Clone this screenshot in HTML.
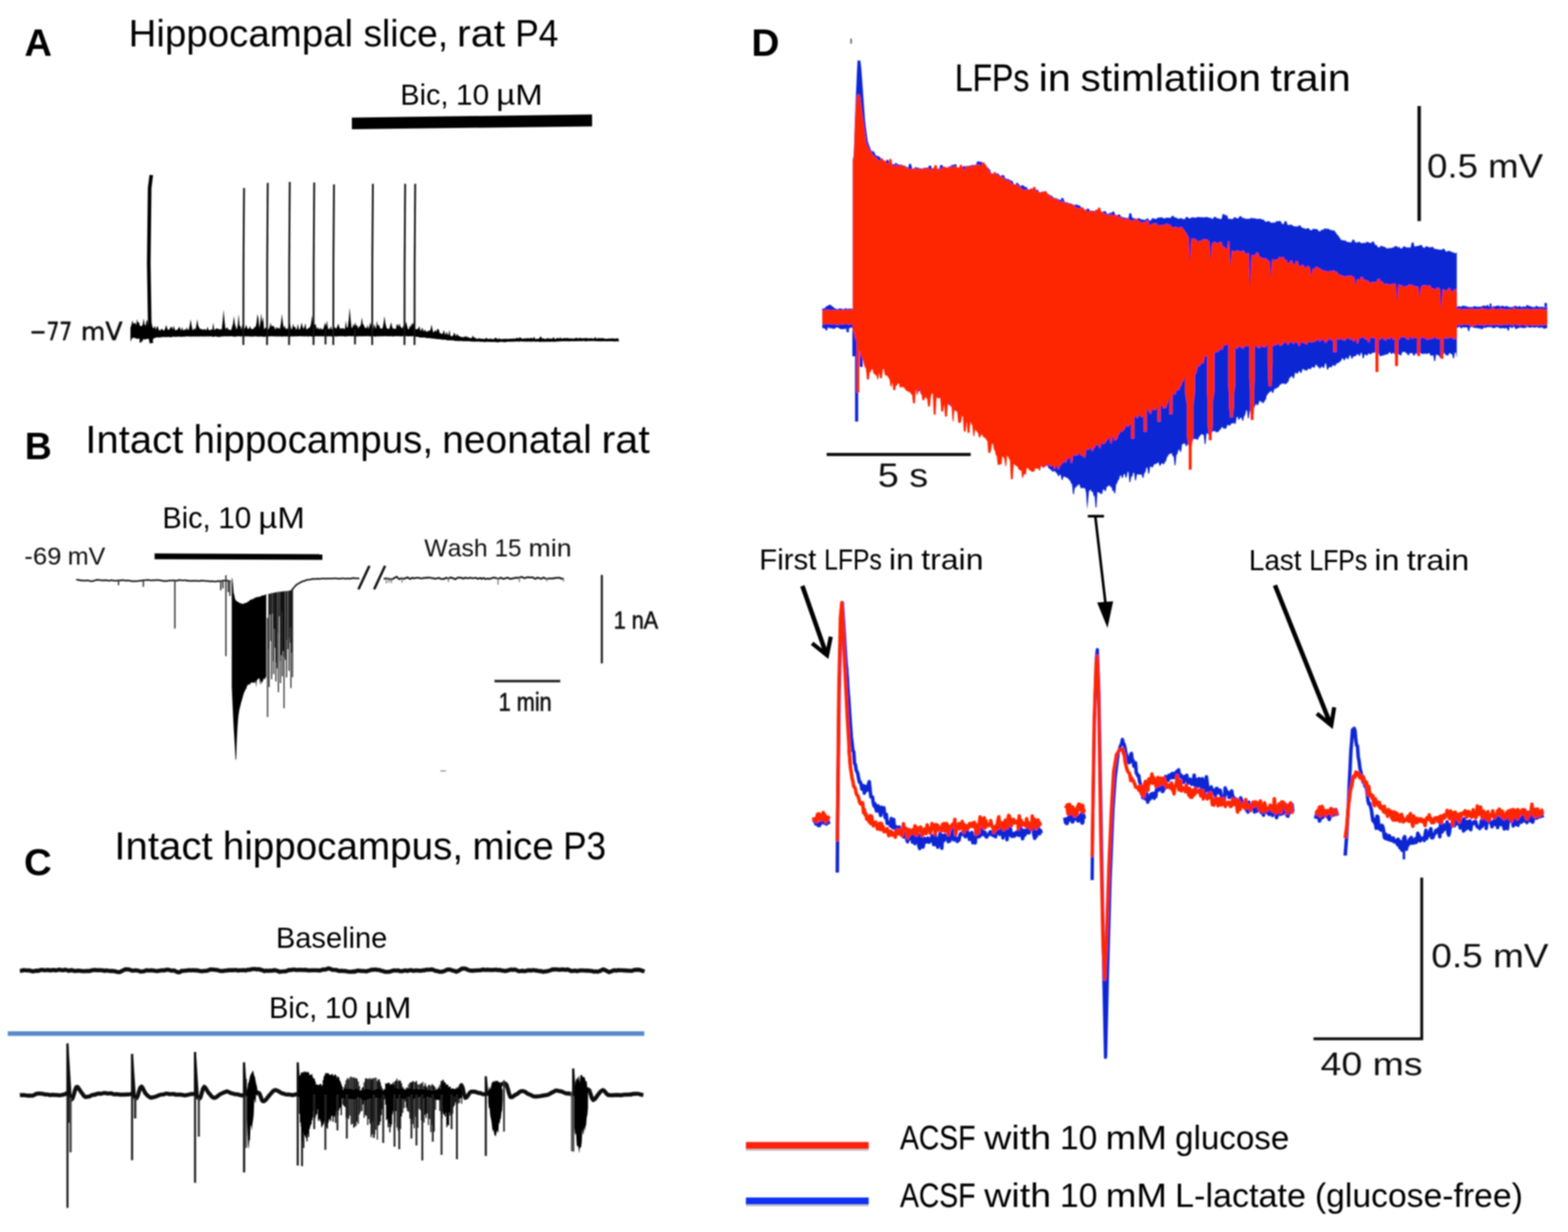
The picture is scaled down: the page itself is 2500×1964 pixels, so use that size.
<!DOCTYPE html>
<html lang="en">
<head>
<meta charset="utf-8">
<title>Figure</title>
<style>
html,body{margin:0;padding:0;background:#fff;}
body{width:2500px;height:1964px;overflow:hidden;}
svg{display:block;}
text{font-kerning:none;white-space:pre;}
</style>
</head>
<body>
<svg width="2500" height="1964" viewBox="0 0 2500 1964">
<defs><filter id="soft" x="0" y="0" width="2500" height="1964" filterUnits="userSpaceOnUse"><feGaussianBlur stdDeviation="0.85"/></filter></defs>
<rect width="2500" height="1964" fill="#fff"/>
<g filter="url(#soft)">
<g id="panel-a">
<text x="39.1" y="89.0" font-family='"Liberation Sans", sans-serif' font-size="61.0" font-weight="bold" textLength="43.9" lengthAdjust="spacingAndGlyphs" fill="#000">A</text>
<text y="74.0" font-family='"Liberation Sans", sans-serif' font-size="61.8" fill="#000"><tspan x="205.0" textLength="358.0" lengthAdjust="spacingAndGlyphs">Hippocampal</tspan> <tspan x="579.4" textLength="135.2" lengthAdjust="spacingAndGlyphs">slice,</tspan> <tspan x="728.6" textLength="77.0" lengthAdjust="spacingAndGlyphs">rat</tspan> <tspan x="821.6" textLength="68.7" lengthAdjust="spacingAndGlyphs" stroke="#000" stroke-width="0.09">P4</tspan></text>
<text y="167.0" font-family='"Liberation Sans", sans-serif' font-size="46.9" fill="#000"><tspan x="638.2" textLength="76.8" lengthAdjust="spacingAndGlyphs">Bic,</tspan> <tspan x="727.1" textLength="52.9" lengthAdjust="spacingAndGlyphs">10</tspan> <tspan x="791.3" textLength="74.0" lengthAdjust="spacingAndGlyphs">µM</tspan></text>
<polygon points="561,187.5 944,182.5 944,201.5 561,206" fill="#000"/>
<text y="542.0" font-family='"DejaVu Sans", sans-serif' font-size="39.0" fill="#111" stroke="#111" stroke-width="0.8"><tspan x="47.2" textLength="67.9" lengthAdjust="spacingAndGlyphs">−77</tspan> <tspan x="129.0" textLength="66.4" lengthAdjust="spacingAndGlyphs">mV</tspan></text>
<polygon points="208.0,522.2 209.5,517.9 211.0,510.2 212.5,516.6 214.0,515.2 215.5,514.5 217.0,518.8 218.5,508.5 220.0,514.9 221.5,512.8 223.0,519.4 224.5,519.6 226.0,520.1 227.5,517.2 229.0,507.3 230.5,517.2 232.0,519.3 233.5,511.6 235.0,510.3 236.5,524.6 238.0,519.1 239.5,523.9 241.0,512.6 242.5,518.6 244.0,523.6 245.5,522.4 247.0,519.2 248.5,525.7 250.0,521.3 251.5,519.8 253.0,525.4 254.5,527.1 256.0,526.6 257.5,523.8 259.0,525.1 260.5,527.1 262.0,526.6 263.5,523.3 265.0,517.8 266.5,523.3 268.0,526.1 269.5,525.8 271.0,523.2 272.5,521.5 274.0,520.7 275.5,525.8 277.0,518.9 278.5,524.6 280.0,527.1 281.5,526.1 283.0,525.0 284.5,523.8 286.0,520.5 287.5,523.9 289.0,527.0 290.5,521.3 292.0,526.9 293.5,526.1 295.0,524.4 296.5,526.3 298.0,521.5 299.5,526.0 301.0,525.4 302.5,518.7 304.0,508.8 305.5,518.7 307.0,526.1 308.5,525.8 310.0,522.7 311.5,526.0 313.0,518.7 314.5,508.8 316.0,518.7 317.5,522.1 319.0,524.7 320.5,523.9 322.0,525.1 323.5,526.1 325.0,524.8 326.5,524.4 328.0,526.5 329.5,525.2 331.0,520.7 332.5,525.8 334.0,526.5 335.5,526.1 337.0,524.9 338.5,525.7 340.0,514.1 341.5,525.5 343.0,525.8 344.5,523.5 346.0,523.7 347.5,524.1 349.0,524.7 350.5,525.5 352.0,524.3 353.5,525.6 355.0,511.7 356.5,493.6 358.0,511.7 359.5,524.6 361.0,523.2 362.5,521.6 364.0,525.5 365.5,525.1 367.0,526.1 368.5,526.3 370.0,520.9 371.5,516.2 373.0,503.5 374.5,516.2 376.0,521.3 377.5,525.4 379.0,518.3 380.5,500.8 382.0,519.3 383.5,519.9 385.0,525.5 386.5,516.6 388.0,525.8 389.5,524.3 391.0,522.4 392.5,517.4 394.0,522.4 395.5,524.6 397.0,523.9 398.5,519.7 400.0,523.7 401.5,524.9 403.0,524.1 404.5,524.5 406.0,520.4 407.5,521.7 409.0,514.7 410.5,500.4 412.0,507.4 413.5,523.2 415.0,514.2 416.5,499.3 418.0,514.2 419.5,504.9 421.0,525.3 422.5,522.7 424.0,522.3 425.5,525.1 427.0,525.7 428.5,524.0 430.0,520.9 431.5,514.3 433.0,520.9 434.5,518.9 436.0,519.7 437.5,521.8 439.0,525.7 440.5,520.7 442.0,524.5 443.5,521.5 445.0,524.2 446.5,523.2 448.0,514.5 449.5,500.2 451.0,514.5 452.5,523.3 454.0,518.7 455.5,524.8 457.0,523.3 458.5,525.0 460.0,519.8 461.5,512.1 463.0,519.0 464.5,525.7 466.0,522.8 467.5,516.1 469.0,522.3 470.5,520.2 472.0,525.8 473.5,523.7 475.0,516.1 476.5,524.9 478.0,525.3 479.5,520.7 481.0,514.1 482.5,520.7 484.0,524.5 485.5,520.8 487.0,515.0 488.5,525.7 490.0,523.9 491.5,523.8 493.0,522.3 494.5,520.9 496.0,515.6 497.5,503.0 499.0,515.6 500.5,519.9 502.0,516.7 503.5,517.4 505.0,525.1 506.5,521.5 508.0,523.8 509.5,525.4 511.0,521.9 512.5,525.3 514.0,524.7 515.5,524.5 517.0,518.9 518.5,513.9 520.0,520.5 521.5,510.4 523.0,525.3 524.5,523.0 526.0,525.3 527.5,519.6 529.0,525.1 530.5,524.8 532.0,522.9 533.5,521.2 535.0,523.4 536.5,523.5 538.0,519.8 539.5,515.8 541.0,521.3 542.5,524.0 544.0,523.9 545.5,523.1 547.0,523.4 548.5,523.9 550.0,524.5 551.5,511.2 553.0,522.1 554.5,522.2 556.0,509.5 557.5,489.7 559.0,509.5 560.5,522.4 562.0,522.6 563.5,516.1 565.0,520.3 566.5,513.6 568.0,520.3 569.5,517.8 571.0,524.0 572.5,520.4 574.0,520.5 575.5,516.7 577.0,505.7 578.5,516.7 580.0,517.9 581.5,521.8 583.0,523.0 584.5,523.3 586.0,517.5 587.5,524.4 589.0,520.2 590.5,513.6 592.0,520.2 593.5,524.5 595.0,524.6 596.5,516.4 598.0,520.7 599.5,524.8 601.0,510.8 602.5,520.1 604.0,516.9 605.5,521.9 607.0,523.7 608.5,523.9 610.0,522.9 611.5,515.6 613.0,503.5 614.5,515.6 616.0,521.4 617.5,523.9 619.0,524.0 620.5,524.5 622.0,520.1 623.5,513.5 625.0,520.1 626.5,523.9 628.0,523.8 629.5,523.7 631.0,525.1 632.5,517.4 634.0,517.1 635.5,520.9 637.0,515.4 638.5,520.9 640.0,521.9 641.5,523.9 643.0,519.5 644.5,520.1 646.0,518.6 647.5,512.4 649.0,519.5 650.5,524.4 652.0,525.1 653.5,518.5 655.0,521.9 656.5,514.8 658.0,518.2 659.5,513.6 661.0,516.8 662.5,525.0 664.0,524.9 665.5,524.4 667.0,523.7 668.5,519.6 670.0,526.0 671.5,527.6 673.0,521.8 674.5,526.0 676.0,528.4 677.5,524.7 679.0,528.5 680.5,528.3 682.0,528.8 683.5,526.6 685.0,527.8 686.5,525.0 688.0,517.3 689.5,525.0 691.0,530.3 692.5,528.7 694.0,525.7 695.5,529.3 697.0,524.9 698.5,524.1 700.0,526.8 701.5,531.8 703.0,530.9 704.5,532.5 706.0,531.7 707.5,526.0 709.0,530.7 710.5,534.2 712.0,528.5 713.5,532.8 715.0,534.2 716.5,525.8 718.0,535.0 719.5,535.7 721.0,536.3 722.5,534.8 724.0,530.3 725.5,532.4 727.0,536.4 728.5,531.8 730.0,534.5 731.5,535.6 733.0,535.9 734.5,537.2 736.0,536.7 737.5,537.8 739.0,537.9 740.5,535.7 742.0,537.7 743.5,535.4 745.0,537.7 746.5,537.3 748.0,538.4 749.5,538.7 751.0,539.1 752.5,538.5 754.0,534.6 755.5,538.4 757.0,537.5 758.5,539.7 760.0,539.8 761.5,540.3 763.0,539.4 764.5,539.1 766.0,540.2 767.5,539.5 769.0,540.2 770.5,540.1 772.0,540.4 773.5,540.0 775.0,538.7 776.5,539.3 778.0,540.3 779.5,540.5 781.0,539.9 782.5,539.4 784.0,540.6 785.5,540.5 787.0,540.7 788.5,539.6 790.0,537.9 791.5,539.6 793.0,540.1 794.5,540.8 796.0,538.7 797.5,540.8 799.0,540.5 800.5,540.5 802.0,540.2 803.5,540.3 805.0,540.1 806.5,540.3 808.0,540.1 809.5,540.6 811.0,540.3 812.5,540.1 814.0,540.0 815.5,539.7 817.0,540.2 818.5,539.2 820.0,540.1 821.5,539.7 823.0,539.3 824.5,538.4 826.0,539.1 827.5,539.4 829.0,537.3 830.5,539.0 832.0,539.8 833.5,539.7 835.0,539.9 836.5,539.3 838.0,539.4 839.5,539.5 841.0,539.0 842.5,539.0 844.0,539.7 845.5,538.9 847.0,538.4 848.5,539.1 850.0,540.1 851.5,536.4 853.0,539.8 854.5,540.5 856.0,540.3 857.5,539.8 859.0,540.0 860.5,538.5 862.0,535.8 863.5,538.5 865.0,540.1 866.5,539.2 868.0,540.1 869.5,540.6 871.0,540.1 872.5,539.0 874.0,539.4 875.5,539.4 877.0,540.0 878.5,539.6 880.0,540.3 881.5,538.8 883.0,537.5 884.5,540.4 886.0,540.4 887.5,539.1 889.0,539.0 890.5,538.9 892.0,539.7 893.5,537.5 895.0,539.9 896.5,539.4 898.0,539.3 899.5,539.1 901.0,538.8 902.5,539.2 904.0,539.0 905.5,538.6 907.0,539.7 908.5,539.4 910.0,539.3 911.5,539.4 913.0,539.8 914.5,539.7 916.0,539.6 917.5,538.9 919.0,538.2 920.5,539.3 922.0,539.6 923.5,539.0 925.0,538.2 926.5,539.5 928.0,539.0 929.5,539.3 931.0,539.4 932.5,539.1 934.0,538.4 935.5,539.3 937.0,539.1 938.5,539.7 940.0,539.1 941.5,539.5 943.0,539.0 944.5,539.5 946.0,539.7 947.5,539.4 949.0,537.0 950.5,539.4 952.0,539.7 953.5,539.2 955.0,538.7 956.5,539.6 958.0,539.0 959.5,539.3 961.0,539.1 962.5,539.3 964.0,539.9 965.5,540.1 967.0,540.0 968.5,540.0 970.0,539.7 971.5,539.5 973.0,539.9 974.5,539.6 976.0,539.2 977.5,539.8 979.0,539.5 980.5,539.8 982.0,540.0 983.5,538.9 985.0,539.7 986.5,540.2 986.5,544.5 985.0,544.2 983.5,544.3 982.0,544.1 980.5,544.3 979.0,544.4 977.5,544.1 976.0,544.1 974.5,544.0 973.0,544.0 971.5,544.1 970.0,544.0 968.5,544.3 967.0,544.1 965.5,544.0 964.0,543.9 962.5,544.0 961.0,544.1 959.5,544.1 958.0,544.3 956.5,544.1 955.0,544.0 953.5,544.2 952.0,543.9 950.5,543.7 949.0,543.7 947.5,543.7 946.0,543.6 944.5,543.8 943.0,543.6 941.5,543.9 940.0,543.5 938.5,543.7 937.0,543.7 935.5,543.9 934.0,544.2 932.5,544.1 931.0,543.6 929.5,543.6 928.0,543.8 926.5,543.9 925.0,543.8 923.5,543.8 922.0,543.8 920.5,543.9 919.0,543.8 917.5,543.9 916.0,544.0 914.5,543.9 913.0,543.8 911.5,543.9 910.0,543.9 908.5,544.1 907.0,544.2 905.5,543.9 904.0,544.0 902.5,544.1 901.0,544.0 899.5,544.0 898.0,544.0 896.5,544.1 895.0,544.1 893.5,544.3 892.0,544.3 890.5,544.3 889.0,544.5 887.5,544.4 886.0,544.7 884.5,544.7 883.0,545.0 881.5,544.7 880.0,544.5 878.5,544.8 877.0,545.0 875.5,544.8 874.0,544.8 872.5,544.7 871.0,544.8 869.5,544.9 868.0,544.7 866.5,545.0 865.0,545.1 863.5,544.6 862.0,545.2 860.5,545.2 859.0,544.6 857.5,544.5 856.0,544.7 854.5,544.7 853.0,544.5 851.5,544.5 850.0,544.4 848.5,544.6 847.0,544.7 845.5,544.8 844.0,544.6 842.5,544.4 841.0,544.4 839.5,544.7 838.0,544.6 836.5,544.4 835.0,544.4 833.5,544.6 832.0,544.3 830.5,544.3 829.0,544.3 827.5,544.7 826.0,544.6 824.5,544.3 823.0,544.5 821.5,544.5 820.0,544.8 818.5,544.6 817.0,544.7 815.5,544.7 814.0,544.8 812.5,544.7 811.0,544.7 809.5,544.7 808.0,544.9 806.5,545.2 805.0,545.4 803.5,545.4 802.0,545.2 800.5,545.0 799.0,545.1 797.5,545.1 796.0,545.5 794.5,545.4 793.0,545.7 791.5,545.5 790.0,545.2 788.5,545.0 787.0,545.3 785.5,545.0 784.0,545.4 782.5,545.0 781.0,545.0 779.5,545.2 778.0,544.8 776.5,545.0 775.0,545.1 773.5,545.2 772.0,545.4 770.5,544.8 769.0,544.9 767.5,544.7 766.0,545.0 764.5,544.6 763.0,544.5 761.5,544.6 760.0,544.6 758.5,544.5 757.0,544.8 755.5,544.4 754.0,544.4 752.5,544.5 751.0,544.5 749.5,544.1 748.0,544.1 746.5,544.0 745.0,544.0 743.5,543.9 742.0,543.8 740.5,543.9 739.0,543.9 737.5,543.7 736.0,543.6 734.5,543.4 733.0,543.7 731.5,543.8 730.0,543.5 728.5,543.4 727.0,543.6 725.5,543.5 724.0,543.0 722.5,542.6 721.0,542.8 719.5,542.4 718.0,542.2 716.5,542.7 715.0,542.5 713.5,542.5 712.0,542.2 710.5,541.6 709.0,541.5 707.5,541.4 706.0,541.5 704.5,541.5 703.0,541.1 701.5,541.0 700.0,540.6 698.5,540.9 697.0,540.5 695.5,540.6 694.0,540.0 692.5,540.1 691.0,539.7 689.5,539.8 688.0,539.6 686.5,539.3 685.0,539.1 683.5,539.0 682.0,538.9 680.5,539.0 679.0,538.6 677.5,538.2 676.0,538.1 674.5,538.0 673.0,538.3 671.5,537.9 670.0,538.0 668.5,538.0 667.0,536.9 665.5,537.1 664.0,536.7 662.5,536.5 661.0,536.0 659.5,536.0 658.0,535.7 656.5,535.9 655.0,536.2 653.5,535.9 652.0,536.0 650.5,536.3 649.0,535.9 647.5,535.8 646.0,535.9 644.5,535.9 643.0,535.8 641.5,536.1 640.0,536.0 638.5,536.4 637.0,535.8 635.5,535.9 634.0,535.9 632.5,535.8 631.0,536.0 629.5,535.7 628.0,536.3 626.5,536.5 625.0,536.0 623.5,535.9 622.0,535.9 620.5,536.3 619.0,536.1 617.5,536.1 616.0,535.9 614.5,536.1 613.0,535.8 611.5,535.9 610.0,536.2 608.5,536.0 607.0,535.8 605.5,536.2 604.0,536.4 602.5,535.9 601.0,536.0 599.5,536.5 598.0,536.7 596.5,536.1 595.0,536.0 593.5,536.1 592.0,536.2 590.5,536.2 589.0,535.9 587.5,536.1 586.0,535.8 584.5,536.0 583.0,536.0 581.5,536.1 580.0,536.0 578.5,536.2 577.0,536.0 575.5,535.9 574.0,536.3 572.5,536.1 571.0,536.1 569.5,536.2 568.0,536.4 566.5,536.1 565.0,535.9 563.5,536.0 562.0,535.8 560.5,536.2 559.0,536.1 557.5,535.8 556.0,536.0 554.5,535.9 553.0,536.0 551.5,536.6 550.0,536.5 548.5,536.0 547.0,535.9 545.5,536.1 544.0,535.9 542.5,535.9 541.0,535.9 539.5,536.1 538.0,536.3 536.5,536.6 535.0,536.2 533.5,535.9 532.0,536.4 530.5,536.7 529.0,536.4 527.5,536.1 526.0,536.3 524.5,536.0 523.0,536.2 521.5,536.2 520.0,536.0 518.5,536.0 517.0,535.9 515.5,536.3 514.0,536.1 512.5,536.3 511.0,536.0 509.5,536.2 508.0,536.1 506.5,536.3 505.0,536.1 503.5,536.0 502.0,536.2 500.5,536.9 499.0,536.7 497.5,536.3 496.0,536.6 494.5,536.1 493.0,536.0 491.5,536.5 490.0,536.5 488.5,536.1 487.0,536.1 485.5,536.4 484.0,536.0 482.5,536.2 481.0,536.0 479.5,536.0 478.0,536.0 476.5,536.0 475.0,536.2 473.5,536.2 472.0,536.0 470.5,536.3 469.0,536.3 467.5,536.4 466.0,536.3 464.5,536.0 463.0,536.7 461.5,536.9 460.0,536.4 458.5,536.3 457.0,536.3 455.5,536.5 454.0,536.3 452.5,536.3 451.0,536.4 449.5,536.6 448.0,536.4 446.5,536.3 445.0,536.2 443.5,536.4 442.0,536.2 440.5,536.3 439.0,536.4 437.5,536.0 436.0,536.2 434.5,536.3 433.0,536.1 431.5,536.1 430.0,536.3 428.5,536.1 427.0,536.9 425.5,537.1 424.0,536.5 422.5,536.4 421.0,536.9 419.5,536.7 418.0,536.5 416.5,536.4 415.0,536.3 413.5,536.7 412.0,536.4 410.5,536.4 409.0,536.3 407.5,536.2 406.0,536.2 404.5,536.3 403.0,536.6 401.5,536.7 400.0,536.2 398.5,536.4 397.0,536.2 395.5,536.3 394.0,536.2 392.5,536.2 391.0,536.1 389.5,536.6 388.0,536.2 386.5,536.1 385.0,536.2 383.5,536.5 382.0,536.1 380.5,536.1 379.0,536.2 377.5,536.1 376.0,536.7 374.5,536.6 373.0,536.7 371.5,536.5 370.0,536.1 368.5,536.1 367.0,536.1 365.5,536.2 364.0,536.3 362.5,536.1 361.0,536.4 359.5,536.1 358.0,536.1 356.5,536.5 355.0,536.3 353.5,536.2 352.0,536.8 350.5,536.9 349.0,537.2 347.5,537.0 346.0,536.7 344.5,536.6 343.0,536.1 341.5,537.1 340.0,537.0 338.5,536.4 337.0,536.5 335.5,536.1 334.0,536.5 332.5,536.3 331.0,536.3 329.5,536.3 328.0,536.6 326.5,536.2 325.0,536.6 323.5,536.3 322.0,536.5 320.5,536.3 319.0,536.3 317.5,536.6 316.0,536.4 314.5,536.4 313.0,536.3 311.5,536.6 310.0,536.4 308.5,536.3 307.0,536.5 305.5,536.6 304.0,536.4 302.5,536.5 301.0,536.4 299.5,536.3 298.0,536.2 296.5,536.3 295.0,536.7 293.5,536.8 292.0,536.5 290.5,536.9 289.0,537.1 287.5,536.8 286.0,536.7 284.5,536.7 283.0,536.6 281.5,537.0 280.0,537.1 278.5,536.7 277.0,536.7 275.5,536.8 274.0,537.2 272.5,537.7 271.0,537.6 269.5,537.3 268.0,536.9 266.5,537.4 265.0,537.2 263.5,537.6 262.0,537.1 260.5,537.4 259.0,537.2 257.5,537.4 256.0,537.8 254.5,538.2 253.0,537.7 251.5,537.9 250.0,537.8 248.5,538.3 247.0,539.0 245.5,538.8 244.0,541.8 242.5,539.6 241.0,539.5 239.5,545.3 238.0,541.0 236.5,540.3 235.0,540.0 233.5,540.2 232.0,541.4 230.5,541.1 229.0,539.9 227.5,543.3 226.0,544.7 224.5,539.7 223.0,539.7 221.5,540.0 220.0,539.6 218.5,540.5 217.0,539.5 215.5,539.0 214.0,538.5 212.5,538.6 211.0,538.7 209.5,541.2 208.0,545.2" fill="#000"/>
<g stroke="#161616" stroke-width="2.9" fill="none" stroke-linecap="butt">
<path d="M388.0,550 L388.2,420 L389.1,299.7"/>
<path d="M425.8,550 L426.0,420 L426.9,291.4"/>
<path d="M460.9,550 L461.1,420 L462.0,290.0"/>
<path d="M499.9,550 L500.1,420 L501.0,291.0"/>
<path d="M531.4,550 L531.6,420 L532.5,294.0"/>
<path d="M593.4,550 L593.6,420 L594.5,293.0"/>
<path d="M644.9,550 L645.1,420 L646.0,293.0"/>
<path d="M660.9,550 L661.1,420 L662.0,293.0"/>
<path d="M519,549 L519,525"/>
<path d="M566,549 L566,525"/>
</g>
<path d="M241.5,547 L239,533 L237.2,420 L238.6,300 L241.2,279" stroke="#000" stroke-width="5.8" fill="none" stroke-linejoin="round"/>
<path d="M224,546 L224,522" stroke="#000" stroke-width="3" fill="none"/>
</g>
<g id="panel-b">
<text x="39.6" y="732.0" font-family='"Liberation Sans", sans-serif' font-size="61.0" font-weight="bold" textLength="43.1" lengthAdjust="spacingAndGlyphs" fill="#000">B</text>
<text y="722.0" font-family='"Liberation Sans", sans-serif' font-size="62.5" fill="#000"><tspan x="136.1" textLength="156.2" lengthAdjust="spacingAndGlyphs">Intact</tspan> <tspan x="308.5" textLength="382.1" lengthAdjust="spacingAndGlyphs">hippocampus,</tspan> <tspan x="704.9" textLength="238.6" lengthAdjust="spacingAndGlyphs">neonatal</tspan> <tspan x="959.1" textLength="76.9" lengthAdjust="spacingAndGlyphs">rat</tspan></text>
<text y="842.3" font-family='"Liberation Sans", sans-serif' font-size="47.2" fill="#000"><tspan x="259.0" textLength="76.7" lengthAdjust="spacingAndGlyphs">Bic,</tspan> <tspan x="347.9" textLength="52.8" lengthAdjust="spacingAndGlyphs">10</tspan> <tspan x="412.0" textLength="74.0" lengthAdjust="spacingAndGlyphs">µM</tspan></text>
<text y="900.3" font-family='"Liberation Sans", sans-serif' font-size="38.2" fill="#111"><tspan x="38.8" textLength="59.1" lengthAdjust="spacingAndGlyphs">-69</tspan> <tspan x="108.0" textLength="60.0" lengthAdjust="spacingAndGlyphs">mV</tspan></text>
<text y="886.5" font-family='"Liberation Sans", sans-serif' font-size="39.5" fill="#111"><tspan x="676.4" textLength="101.0" lengthAdjust="spacingAndGlyphs">Wash</tspan> <tspan x="788.4" textLength="43.0" lengthAdjust="spacingAndGlyphs">15</tspan> <tspan x="842.8" textLength="68.5" lengthAdjust="spacingAndGlyphs">min</tspan></text>
<polygon points="246.5,882.3 514,883.5 514,892.5 246.5,891.5" fill="#000"/>
<polyline points="121.5,924.2 123.5,924.3 125.5,924.5 127.5,925.2 129.5,925.1 131.5,925.5 133.5,925.5 135.5,925.8 137.5,925.4 139.5,925.1 141.5,925.6 143.5,926.3 145.5,926.4 147.5,926.5 149.5,925.8 151.5,925.4 153.5,924.5 155.5,924.3 157.5,924.4 159.5,924.9 161.5,924.9 163.5,925.2 165.5,925.1 167.5,925.3 169.5,924.9 171.5,925.5 173.5,925.7 175.5,925.6 177.5,924.9 179.5,925.3 181.5,925.4 183.5,926.0 185.5,925.8 187.5,925.4 189.5,925.4 191.5,925.0 193.5,925.3 195.5,924.8 197.5,925.0 199.5,925.4 201.5,925.7 203.5,925.3 205.5,925.6 207.5,925.8 209.5,926.5 211.5,926.5 213.5,926.6 215.5,926.6 217.5,926.6 219.5,926.3 221.5,925.9 223.5,925.8 225.5,925.8 227.5,925.2 229.5,925.0 231.5,924.9 233.5,924.8 235.5,924.5 237.5,924.8 239.5,925.1 241.5,925.3 243.5,925.0 245.5,925.1 247.5,925.0 249.5,924.8 251.5,924.8 253.5,924.9 255.5,925.1 257.5,925.6 259.5,925.9 261.5,926.3 263.5,926.0 265.5,926.2 267.5,925.9 269.5,925.6 271.5,925.5 273.5,925.4 275.5,925.2 277.5,925.3 279.5,925.4 281.5,925.8 283.5,925.5 285.5,924.6 287.5,924.9 289.5,925.1 291.5,925.2 293.5,925.1 295.5,924.9 297.5,925.7 299.5,925.5 301.5,926.0 303.5,926.0 305.5,926.1 307.5,925.8 309.5,926.1 311.5,925.7 313.5,926.0 315.5,925.9 317.5,926.2 319.5,925.9 321.5,925.6 323.5,925.8 325.5,926.1 327.5,926.0 329.5,926.2 331.5,926.3 333.5,926.6 335.5,926.9 337.5,926.6 339.5,926.7 341.5,927.0 343.5,927.0 345.5,926.8 347.5,926.2 349.5,926.4 351.5,926.3 353.5,926.2 355.5,925.6 357.5,925.5 359.5,925.4 361.5,925.5 363.5,925.7 365.5,926.2 367.5,926.7" stroke="#151515" stroke-width="2.5" fill="none"/>
<g stroke="#333" stroke-width="2.2" fill="none">
<path d="M189,925 L189,933"/>
<path d="M228.5,925 L228.5,935.5"/>
<path d="M278.8,925 L278.8,1002"/>
<path d="M352,925 L352,941"/>
<path d="M355.5,925 L355.5,938"/>
<path d="M360.2,925 L360.2,1046"/>
<path d="M364,925 L364,944"/>
<path d="M366.5,925 L366.5,950"/>
<path d="M360.2,925 L360.2,917"/>
</g>
<polygon points="369.5,920.8 370.5,923.0 371.5,931.8 372.5,945.1 373.5,948.4 374.5,953.4 375.5,956.5 376.5,957.4 377.5,958.0 378.5,959.4 379.5,959.3 380.5,960.0 381.5,960.7 382.5,961.5 383.5,962.0 384.5,961.2 385.5,962.7 386.5,962.6 387.5,962.8 388.5,962.5 389.5,961.4 390.5,961.4 391.5,961.0 392.5,960.9 393.5,960.9 394.5,959.5 395.5,958.5 396.5,959.5 397.5,957.1 398.5,956.9 399.5,956.3 400.5,955.2 401.5,955.8 402.5,955.5 403.5,954.6 404.5,954.2 405.5,953.7 406.5,952.5 407.5,953.1 408.5,952.0 409.5,951.7 410.5,952.0 411.5,952.0 412.5,950.8 413.5,951.5 414.5,951.5 415.5,950.4 416.5,950.0 417.5,949.8 418.5,949.2 419.5,948.7 420.5,949.2 421.5,948.9 422.5,948.0 423.5,947.7 424.5,947.3 424.5,1081.1 423.5,1078.7 422.5,1082.3 421.5,1083.2 420.5,1080.9 419.5,1084.2 418.5,1087.7 417.5,1086.8 416.5,1092.0 415.5,1082.8 414.5,1092.2 413.5,1080.4 412.5,1081.9 411.5,1081.9 410.5,1083.4 409.5,1084.7 408.5,1096.0 407.5,1084.7 406.5,1088.2 405.5,1088.9 404.5,1086.9 403.5,1089.4 402.5,1087.6 401.5,1087.9 400.5,1088.8 399.5,1088.2 398.5,1092.3 397.5,1090.2 396.5,1091.8 395.5,1091.3 394.5,1092.7 393.5,1094.8 392.5,1098.7 391.5,1098.4 390.5,1102.1 389.5,1103.0 388.5,1106.2 387.5,1109.5 386.5,1113.1 385.5,1116.4 384.5,1120.0 383.5,1124.0 382.5,1128.0 381.5,1132.0 380.5,1138.5 379.5,1147.5 378.5,1162.0 377.5,1182.0 376.5,1211.0 375.5,1211.0 374.5,1192.0 373.5,1175.2 372.5,1158.4 371.5,1139.0 370.5,1117.0 369.5,1095.0" fill="#000"/>
<path d="M429.0,946.7 V1095.3 M433.0,945.8 V1082.7 M436.4,945.1 V1074.8 M439.8,944.4 V1086.2 M443.8,943.7 V1103.5 M447.2,943.3 V1089.1 M450.2,943.0 V1078.2 M452.8,942.7 V1129.0 M456.8,942.2 V1080.0 M460.8,941.7 V1069.5 M463.8,941.4 V1097.0 M466.4,940.3 V1079.4" stroke="#1a1a1a" stroke-width="1.7" fill="none"/>
<path d="M428.5,946.8 V1034.4 M430.3,946.4 V979.6 M431.8,946.1 V1022.1 M433.9,945.6 V978.2 M435.7,945.2 V1054.0 M437.2,944.9 V1002.3 M438.7,944.6 V1032.8 M440.2,944.3 V1056.1 M441.7,944.0 V1065.5 M443.5,943.8 V1008.5 M445.0,943.6 V982.6 M447.1,943.4 V1053.9 M448.6,943.2 V1044.4 M450.1,943.0 V975.3 M451.6,942.8 V1037.8 M453.4,942.6 V1047.5 M455.2,942.4 V1052.1 M457.0,942.2 V1019.7 M459.1,941.9 V1034.8 M460.9,941.7 V1016.3 M463.0,941.5 V1024.8 M465.1,940.8 V1040.4" stroke="#0a0a0a" stroke-width="1.3" fill="none"/>
<path d="M426.6,985 V1143" stroke="#333" stroke-width="2" fill="none"/>
<path d="M463.5,941 V1000" stroke="#111" stroke-width="2.6" fill="none"/>
<polyline points="465.0,941.1 467.0,938.5 469.0,936.3 471.0,933.9 473.0,932.0 475.0,930.7 477.0,929.6 479.0,928.6 481.0,927.3 483.0,926.5 485.0,926.2 487.0,925.3 489.0,924.5 491.0,924.2 493.0,924.0 495.0,923.7 497.0,923.2 499.0,922.8 501.0,922.9 503.0,923.0 505.0,922.8 507.0,922.6 509.0,923.0 511.0,922.8 513.0,922.3 515.0,922.2 517.0,922.3 519.0,922.4 521.0,922.3 523.0,922.2 525.0,922.2 527.0,922.3 529.0,922.2 531.0,922.3 533.0,922.0 535.0,921.9 537.0,922.2 539.0,922.2 541.0,922.5 543.0,922.4 545.0,922.0 547.0,922.0 549.0,922.2 551.0,922.5 553.0,922.3 555.0,922.1 557.0,922.4 559.0,922.4 561.0,921.8 563.0,921.6 565.0,921.8 567.0,922.0 569.0,922.0 571.0,922.1 573.0,922.2" stroke="#151515" stroke-width="2.5" fill="none"/>
<path d="M571.5,939.5 L589,902 M596.5,939.5 L614,902" stroke="#111" stroke-width="3.9" fill="none" stroke-linecap="butt"/>
<polyline points="612.0,923.3 614.0,922.1 616.0,922.0 618.0,922.4 620.0,922.5 622.0,923.4 624.0,923.6 626.0,923.1 628.0,921.8 630.0,920.8 632.0,919.5 634.0,920.7 636.0,923.1 638.0,922.9 640.0,921.6 642.0,922.5 644.0,922.8 646.0,921.8 648.0,921.2 650.0,920.4 652.0,922.0 654.0,922.9 656.0,921.6 658.0,921.0 660.0,922.2 662.0,921.3 664.0,921.1 666.0,921.2 668.0,921.2 670.0,921.9 672.0,922.1 674.0,921.9 676.0,921.2 678.0,921.3 680.0,920.9 682.0,921.0 684.0,920.9 686.0,920.8 688.0,921.7 690.0,921.8 692.0,922.0 694.0,922.6 696.0,922.4 698.0,921.4 700.0,921.2 702.0,922.6 704.0,922.9 706.0,922.8 708.0,923.1 710.0,921.6 712.0,921.1 714.0,922.2 716.0,921.8 718.0,920.8 720.0,921.0 722.0,921.6 724.0,922.6 726.0,923.4 728.0,922.1 730.0,920.8 732.0,920.6 734.0,921.1 736.0,921.2 738.0,922.3 740.0,922.0 742.0,920.9 744.0,921.6 746.0,921.9 748.0,921.3 750.0,921.0 752.0,921.6 754.0,921.9 756.0,921.5 758.0,921.1 760.0,921.6 762.0,922.8 764.0,922.0 766.0,921.4 768.0,922.9 770.0,921.7 772.0,921.7 774.0,923.2 776.0,922.5 778.0,922.2 780.0,923.0 782.0,922.4 784.0,921.7 786.0,921.2 788.0,920.7 790.0,921.3 792.0,921.7 794.0,922.5 796.0,922.4 798.0,920.9 800.0,921.5 802.0,922.7 804.0,922.4 806.0,921.8 808.0,921.2 810.0,920.9 812.0,922.2 814.0,923.0 816.0,922.2 818.0,922.0 820.0,921.7 822.0,921.0 824.0,920.9 826.0,921.4 828.0,920.8 830.0,920.0 832.0,920.0 834.0,920.5 836.0,921.8 838.0,921.3 840.0,920.3 842.0,920.1 844.0,920.5 846.0,920.7 848.0,920.4 850.0,920.5 852.0,922.2 854.0,922.8 856.0,921.2 858.0,921.0 860.0,921.8 862.0,922.6 864.0,922.3 866.0,920.7 868.0,921.1 870.0,922.7 872.0,922.6 874.0,922.3 876.0,921.9 878.0,922.3 880.0,922.1 882.0,922.0 884.0,921.9 886.0,921.1 888.0,921.2 890.0,921.1 892.0,921.0 894.0,921.8 896.0,922.9 898.0,922.1" stroke="#181818" stroke-width="2.8" fill="none"/>
<g stroke="#666" stroke-width="1.6" fill="none">
<path d="M616,921 V930"/>
<path d="M620,921 V929"/>
<path d="M624,921 V929.5"/>
<path d="M641,921 V929"/>
<path d="M715,921 V928"/>
<path d="M794,921 V932"/>
<path d="M828,921 V928"/>
<path d="M872,921 V927"/>
<path d="M898.5,921 V927"/>
</g>
<path d="M959.6,916.5 V1057.5" stroke="#222" stroke-width="3.4" fill="none"/>
<path d="M788.4,1085.8 H893.3" stroke="#222" stroke-width="4" fill="none"/>
<text x="978.4" y="1002.0" font-family='"Liberation Sans", sans-serif' font-size="39.2" textLength="71.0" lengthAdjust="spacingAndGlyphs" fill="#111" stroke="#111" stroke-width="0.9">1 nA</text>
<text x="794.9" y="1133.2" font-family='"Liberation Sans", sans-serif' font-size="40.1" textLength="84.7" lengthAdjust="spacingAndGlyphs" fill="#111" stroke="#111" stroke-width="0.9">1 min</text>
<path d="M702,1229 H711" stroke="#777" stroke-width="1.5" fill="none"/>
</g>
<g id="panel-c">
<text x="38.3" y="1394.6" font-family='"Liberation Sans", sans-serif' font-size="59.9" font-weight="bold" textLength="44.3" lengthAdjust="spacingAndGlyphs" fill="#000">C</text>
<text y="1369.7" font-family='"Liberation Sans", sans-serif' font-size="62.1" fill="#000"><tspan x="182.3" textLength="156.7" lengthAdjust="spacingAndGlyphs">Intact</tspan> <tspan x="355.2" textLength="383.3" lengthAdjust="spacingAndGlyphs">hippocampus,</tspan> <tspan x="753.2" textLength="129.8" lengthAdjust="spacingAndGlyphs">mice</tspan> <tspan x="898.1" textLength="68.1" lengthAdjust="spacingAndGlyphs" stroke="#000" stroke-width="0.14">P3</tspan></text>
<text y="1510.5" font-family='"Liberation Sans", sans-serif' font-size="46.9" fill="#000"><tspan x="440.0" textLength="177.5" lengthAdjust="spacingAndGlyphs">Baseline</tspan></text>
<text y="1623.0" font-family='"Liberation Sans", sans-serif' font-size="47.2" fill="#000"><tspan x="429.0" textLength="76.8" lengthAdjust="spacingAndGlyphs">Bic,</tspan> <tspan x="517.9" textLength="52.9" lengthAdjust="spacingAndGlyphs">10</tspan> <tspan x="582.1" textLength="74.0" lengthAdjust="spacingAndGlyphs">µM</tspan></text>
<polyline points="31.7,1547.5 34.7,1547.4 37.7,1546.5 40.7,1546.8 43.7,1547.0 46.7,1547.0 49.7,1547.8 52.7,1548.6 55.7,1547.7 58.7,1547.4 61.7,1547.6 64.7,1546.2 67.7,1546.2 70.7,1546.8 73.7,1546.6 76.7,1546.2 79.7,1547.1 82.7,1546.6 85.7,1546.3 88.7,1547.0 91.7,1546.4 94.7,1545.7 97.7,1546.5 100.7,1546.7 103.7,1545.9 106.7,1546.5 109.7,1547.7 112.7,1546.6 115.7,1546.9 118.7,1547.9 121.7,1547.8 124.7,1547.2 127.7,1547.6 130.7,1547.9 133.7,1548.3 136.7,1548.0 139.7,1547.7 142.7,1548.0 145.7,1547.1 148.7,1546.5 151.7,1546.4 154.7,1546.7 157.7,1546.5 160.7,1546.8 163.7,1546.9 166.7,1547.7 169.7,1547.0 172.7,1547.5 175.7,1547.9 178.7,1547.7 181.7,1548.1 184.7,1548.8 187.7,1549.5 190.7,1549.7 193.7,1548.3 196.7,1546.7 199.7,1545.4 202.7,1545.3 205.7,1545.5 208.7,1546.8 211.7,1547.4 214.7,1547.0 217.7,1546.9 220.7,1547.5 223.7,1548.8 226.7,1548.6 229.7,1548.3 232.7,1546.9 235.7,1546.9 238.7,1547.3 241.7,1546.8 244.7,1547.2 247.7,1547.7 250.7,1548.1 253.7,1547.5 256.7,1547.0 259.7,1546.9 262.7,1546.9 265.7,1545.9 268.7,1546.0 271.7,1546.9 274.7,1547.5 277.7,1547.1 280.7,1548.7 283.7,1549.9 286.7,1549.7 289.7,1547.6 292.7,1547.7 295.7,1547.3 298.7,1547.1 301.7,1546.5 304.7,1546.9 307.7,1546.5 310.7,1546.9 313.7,1546.8 316.7,1547.5 319.7,1548.1 322.7,1548.2 325.7,1547.8 328.7,1547.7 331.7,1547.1 334.7,1545.6 337.7,1545.6 340.7,1545.7 343.7,1546.2 346.7,1546.4 349.7,1547.5 352.7,1547.9 355.7,1547.9 358.7,1547.3 361.7,1547.2 364.7,1546.5 367.7,1546.6 370.7,1546.6 373.7,1546.5 376.7,1546.4 379.7,1547.2 382.7,1546.7 385.7,1546.8 388.7,1546.6 391.7,1547.1 394.7,1546.1 397.7,1546.0 400.7,1545.2 403.7,1544.8 406.7,1544.8 409.7,1545.5 412.7,1545.0 415.7,1546.0 418.7,1546.8 421.7,1548.1 424.7,1547.3 427.7,1547.7 430.7,1547.2 433.7,1547.5 436.7,1546.6 439.7,1546.9 442.7,1547.9 445.7,1549.2 448.7,1548.7 451.7,1548.5 454.7,1548.5 457.7,1547.6 460.7,1546.4 463.7,1546.5 466.7,1545.7 469.7,1545.8 472.7,1546.4 475.7,1546.2 478.7,1546.1 481.7,1546.2 484.7,1546.4 487.7,1546.1 490.7,1546.9 493.7,1547.0 496.7,1546.7 499.7,1546.8 502.7,1546.7 505.7,1546.8 508.7,1547.3 511.7,1546.8 514.7,1545.6 517.7,1545.8 520.7,1545.0 523.7,1543.7 526.7,1544.6 529.7,1546.0 532.7,1546.3 535.7,1546.2 538.7,1547.3 541.7,1548.0 544.7,1547.4 547.7,1547.9 550.7,1547.9 553.7,1548.7 556.7,1549.0 559.7,1549.3 562.7,1548.6 565.7,1548.9 568.7,1547.6 571.7,1547.3 574.7,1547.7 577.7,1547.9 580.7,1548.0 583.7,1548.5 586.7,1547.7 589.7,1546.8 592.7,1545.8 595.7,1545.9 598.7,1545.5 601.7,1546.2 604.7,1546.2 607.7,1547.5 610.7,1548.0 613.7,1549.1 616.7,1549.2 619.7,1549.3 622.7,1548.6 625.7,1547.6 628.7,1547.0 631.7,1547.3 634.7,1546.9 637.7,1548.1 640.7,1548.2 643.7,1547.5 646.7,1547.0 649.7,1547.9 652.7,1546.7 655.7,1546.5 658.7,1547.8 661.7,1547.1 664.7,1547.1 667.7,1547.3 670.7,1547.6 673.7,1546.9 676.7,1546.9 679.7,1545.9 682.7,1546.0 685.7,1545.7 688.7,1545.4 691.7,1546.5 694.7,1547.8 697.7,1548.1 700.7,1549.0 703.7,1549.2 706.7,1548.6 709.7,1547.5 712.7,1545.8 715.7,1545.5 718.7,1546.1 721.7,1547.3 724.7,1547.8 727.7,1549.1 730.7,1547.7 733.7,1546.1 736.7,1544.1 739.7,1544.0 742.7,1544.2 745.7,1546.1 748.7,1546.9 751.7,1547.4 754.7,1547.4 757.7,1547.0 760.7,1547.0 763.7,1546.8 766.7,1546.7 769.7,1545.6 772.7,1546.2 775.7,1546.0 778.7,1546.1 781.7,1546.2 784.7,1546.4 787.7,1546.2 790.7,1545.8 793.7,1546.6 796.7,1546.2 799.7,1547.2 802.7,1547.4 805.7,1548.0 808.7,1547.2 811.7,1546.5 814.7,1545.6 817.7,1546.2 820.7,1545.5 823.7,1546.6 826.7,1548.1 829.7,1548.2 832.7,1547.3 835.7,1548.3 838.7,1547.7 841.7,1546.9 844.7,1546.9 847.7,1547.1 850.7,1546.4 853.7,1547.1 856.7,1547.4 859.7,1548.1 862.7,1548.1 865.7,1549.2 868.7,1548.6 871.7,1548.5 874.7,1547.6 877.7,1546.9 880.7,1545.4 883.7,1545.6 886.7,1545.2 889.7,1545.9 892.7,1545.9 895.7,1545.6 898.7,1545.6 901.7,1546.2 904.7,1545.4 907.7,1546.6 910.7,1547.9 913.7,1547.9 916.7,1547.2 919.7,1548.2 922.7,1547.6 925.7,1547.0 928.7,1547.0 931.7,1547.3 934.7,1547.4 937.7,1547.2 940.7,1547.8 943.7,1547.9 946.7,1549.0 949.7,1548.5 952.7,1549.1 955.7,1548.2 958.7,1546.9 961.7,1545.3 964.7,1546.5 967.7,1548.0 970.7,1549.7 973.7,1548.9 976.7,1547.6 979.7,1546.6 982.7,1547.4 985.7,1546.5 988.7,1546.8 991.7,1546.7 994.7,1547.1 997.7,1547.0 1000.7,1547.4 1003.7,1547.5 1006.7,1547.8 1009.7,1546.9 1012.7,1546.0 1015.7,1546.1 1018.7,1545.9 1021.7,1546.7 1024.7,1547.8 1027.7,1548.7" stroke="#111" stroke-width="6.6" fill="none" stroke-linejoin="round" stroke-linecap="butt"/>
<rect x="12.4" y="1644" width="1014.8" height="7.4" fill="#588ac9"/>
<polyline points="31.7,1745.8 33.7,1745.7 35.7,1746.0 37.7,1745.6 39.7,1746.0 41.7,1746.1 43.7,1746.6 45.7,1746.7 47.7,1746.5 49.7,1746.6 51.7,1746.7 53.7,1746.0 55.7,1744.9 57.7,1743.7 59.7,1743.5 61.7,1743.2 63.7,1743.4 65.7,1743.5 67.7,1743.6 69.7,1744.2 71.7,1744.8 73.7,1744.8 75.7,1744.9 77.7,1745.1 79.7,1745.7 81.7,1745.5 83.7,1745.2 85.7,1745.5 87.7,1745.4 89.7,1745.6 91.7,1745.7 93.7,1746.1 95.7,1746.1 97.7,1745.6 99.7,1745.4 101.7,1744.8 103.7,1744.3 105.7,1743.0 107.7,1743.4 109.7,1746.1 111.7,1750.5 113.7,1753.0 115.7,1751.1 117.7,1745.0 119.7,1737.7 121.7,1732.9 123.7,1732.7 125.7,1735.4 127.7,1738.5 129.7,1741.4 131.7,1743.9 133.7,1746.9 135.7,1748.7 137.7,1748.7 139.7,1748.3 141.7,1748.1 143.7,1747.5 145.7,1746.1 147.7,1745.5 149.7,1745.0 151.7,1745.2 153.7,1744.0 155.7,1743.6 157.7,1743.2 159.7,1743.7 161.7,1743.5 163.7,1743.0 165.7,1742.4 167.7,1742.4 169.7,1742.9 171.7,1743.4 173.7,1743.1 175.7,1742.9 177.7,1743.0 179.7,1743.9 181.7,1744.4 183.7,1744.7 185.7,1744.1 187.7,1744.5 189.7,1744.6 191.7,1745.2 193.7,1744.9 195.7,1745.0 197.7,1744.9 199.7,1745.0 201.7,1744.7 203.7,1744.7 205.7,1744.6 207.7,1744.3 209.7,1743.7 211.7,1744.3 213.7,1747.1 215.7,1750.2 217.7,1750.7 219.7,1746.8 221.7,1739.6 223.7,1733.9 225.7,1732.2 227.7,1734.8 229.7,1738.9 231.7,1742.8 233.7,1744.9 235.7,1746.9 237.7,1748.3 239.7,1749.8 241.7,1749.8 243.7,1749.4 245.7,1748.8 247.7,1748.3 249.7,1747.7 251.7,1746.7 253.7,1745.9 255.7,1745.2 257.7,1744.9 259.7,1744.9 261.7,1744.5 263.7,1743.5 265.7,1743.4 267.7,1743.4 269.7,1744.3 271.7,1744.2 273.7,1744.1 275.7,1743.9 277.7,1744.0 279.7,1745.1 281.7,1744.8 283.7,1745.1 285.7,1744.8 287.7,1745.0 289.7,1745.3 291.7,1745.5 293.7,1746.1 295.7,1746.0 297.7,1745.6 299.7,1745.3 301.7,1744.7 303.7,1744.4 305.7,1744.0 307.7,1744.0 309.7,1744.0 311.7,1744.7 313.7,1747.3 315.7,1749.9 317.7,1751.6 319.7,1749.3 321.7,1742.3 323.7,1735.4 325.7,1732.5 327.7,1734.4 329.7,1737.7 331.7,1740.9 333.7,1743.4 335.7,1745.7 337.7,1748.2 339.7,1749.7 341.7,1750.2 343.7,1749.6 345.7,1748.5 347.7,1746.8 349.7,1745.2 351.7,1744.0 353.7,1743.0 355.7,1742.3 357.7,1741.2 359.7,1740.5 361.7,1739.7 363.7,1740.4 365.7,1741.3 367.7,1742.4 369.7,1743.0 371.7,1743.3 373.7,1744.1 375.7,1744.4 377.7,1744.5 379.7,1744.6 381.7,1745.5 383.7,1745.8 385.7,1746.3 387.7,1746.2 389.7,1746.3 391.7,1745.6 393.7,1744.6 395.7,1743.9 397.7,1743.7 399.7,1743.9 401.7,1743.5 403.7,1742.8 405.7,1742.0 407.7,1742.5 409.7,1742.0 411.7,1741.7 413.7,1743.2 415.7,1748.3 417.7,1754.1 419.7,1755.6 421.7,1755.2 423.7,1753.3 425.7,1750.9 427.7,1748.3 429.7,1745.7 431.7,1743.6 433.7,1741.2 435.7,1739.2 437.7,1737.9 439.7,1737.8 441.7,1738.6 443.7,1739.3 445.7,1740.7 447.7,1741.8 449.7,1742.8 451.7,1743.3 453.7,1744.0 455.7,1744.6 457.7,1744.9 459.7,1744.8 461.7,1745.0 463.7,1745.1 465.7,1745.9 467.7,1745.5 469.7,1745.2 471.7,1744.4 473.7,1744.5 475.7,1744.2 477.7,1744.3 479.7,1744.9 481.7,1745.5 483.7,1745.3 485.7,1744.8 487.7,1744.6 489.7,1744.1 491.7,1744.0 493.7,1744.2 495.7,1744.7 497.7,1744.9 499.7,1744.5 501.7,1744.2 503.7,1743.9 505.7,1744.1 507.7,1744.3 509.7,1744.7 511.7,1743.9 513.7,1744.0 515.7,1744.1 517.7,1745.2 519.7,1744.7 521.7,1743.8 523.7,1743.1 525.7,1743.0 527.7,1744.1 529.7,1744.2 531.7,1744.3 533.7,1744.0 535.7,1744.4 537.7,1744.8 539.7,1744.4 541.7,1744.7 543.7,1744.5 545.7,1744.4 547.7,1744.0 549.7,1743.5 551.7,1743.4 553.7,1743.1 555.7,1743.1 557.7,1743.3 559.7,1743.3 561.7,1743.5 563.7,1743.4 565.7,1743.9 567.7,1743.7 569.7,1743.8 571.7,1743.3 573.7,1743.4 575.7,1743.2 577.7,1744.0 579.7,1744.1 581.7,1744.6 583.7,1744.0 585.7,1743.7 587.7,1743.3 589.7,1743.2 591.7,1743.3 593.7,1743.4 595.7,1744.0 597.7,1744.4 599.7,1744.7 601.7,1744.6 603.7,1744.0 605.7,1744.2 607.7,1743.5 609.7,1744.5 611.7,1744.1 613.7,1744.6 615.7,1744.7 617.7,1744.9 619.7,1744.3 621.7,1743.2 623.7,1742.6 625.7,1743.3 627.7,1743.9 629.7,1744.5 631.7,1744.3 633.7,1744.5 635.7,1744.0 637.7,1743.4 639.7,1742.9 641.7,1743.4 643.7,1743.6 645.7,1743.1 647.7,1742.8 649.7,1743.2 651.7,1743.9 653.7,1744.0 655.7,1743.6 657.7,1742.9 659.7,1743.0 661.7,1743.6 663.7,1744.1 665.7,1744.5 667.7,1743.6 669.7,1743.6 671.7,1743.0 673.7,1743.3 675.7,1742.9 677.7,1743.4 679.7,1743.3 681.7,1743.1 683.7,1743.0 685.7,1743.1 687.7,1743.3 689.7,1743.0 691.7,1743.2 693.7,1743.7 695.7,1743.8 697.7,1743.4 699.7,1743.3 701.7,1743.5 703.7,1744.2 705.7,1744.3 707.7,1744.2 709.7,1743.8 711.7,1743.6 713.7,1742.8 715.7,1742.4 717.7,1742.4 719.7,1742.8 721.7,1742.9 723.7,1742.7 725.7,1742.4 727.7,1742.3 729.7,1742.2 731.7,1739.7 733.7,1733.6 735.7,1729.9 737.7,1733.9 739.7,1743.7 741.7,1750.1 743.7,1749.5 745.7,1747.0 747.7,1744.0 749.7,1741.1 751.7,1740.2 753.7,1740.1 755.7,1740.5 757.7,1740.2 759.7,1741.3 761.7,1741.8 763.7,1742.6 765.7,1742.5 767.7,1743.4 769.7,1744.3 771.7,1744.4 773.7,1744.1 775.7,1743.9 777.7,1743.9 779.7,1743.1 781.7,1741.7 783.7,1740.3 785.7,1739.1 787.7,1738.3 789.7,1736.6 791.7,1735.2 793.7,1733.6 795.7,1732.2 797.7,1730.7 799.7,1728.5 801.7,1727.7 803.7,1727.1 805.7,1727.4 807.7,1729.7 809.7,1735.9 811.7,1743.7 813.7,1748.8 815.7,1749.2 817.7,1748.3 819.7,1746.5 821.7,1745.4 823.7,1744.3 825.7,1743.3 827.7,1741.3 829.7,1740.0 831.7,1739.4 833.7,1739.5 835.7,1739.8 837.7,1740.9 839.7,1742.4 841.7,1743.8 843.7,1744.5 845.7,1745.3 847.7,1746.4 849.7,1747.4 851.7,1748.1 853.7,1747.9 855.7,1748.0 857.7,1747.9 859.7,1747.6 861.7,1747.4 863.7,1746.8 865.7,1746.8 867.7,1746.0 869.7,1746.0 871.7,1745.6 873.7,1745.1 875.7,1744.1 877.7,1743.0 879.7,1741.8 881.7,1740.8 883.7,1739.8 885.7,1738.6 887.7,1738.4 889.7,1738.9 891.7,1739.3 893.7,1739.8 895.7,1740.0 897.7,1741.1 899.7,1741.9 901.7,1742.8 903.7,1743.2 905.7,1743.0 907.7,1743.4 909.7,1743.9 911.7,1745.0 913.7,1744.9 915.7,1744.6 917.7,1743.9 919.7,1743.7 921.7,1742.6 923.7,1741.9 925.7,1740.6 927.7,1739.8 929.7,1738.3 931.7,1737.3 933.7,1737.0 935.7,1736.8 937.7,1736.6 939.7,1738.2 941.7,1744.2 943.7,1750.4 945.7,1753.6 947.7,1752.7 949.7,1750.5 951.7,1747.6 953.7,1744.8 955.7,1742.4 957.7,1740.0 959.7,1738.5 961.7,1737.8 963.7,1739.3 965.7,1741.8 967.7,1744.1 969.7,1745.7 971.7,1745.7 973.7,1746.0 975.7,1746.0 977.7,1746.0 979.7,1745.6 981.7,1745.7 983.7,1745.5 985.7,1745.8 987.7,1745.7 989.7,1746.2 991.7,1745.7 993.7,1745.3 995.7,1745.0 997.7,1745.1 999.7,1744.9 1001.7,1745.1 1003.7,1744.7 1005.7,1745.1 1007.7,1744.0 1009.7,1744.0 1011.7,1743.8 1013.7,1743.7 1015.7,1743.6 1017.7,1743.6 1019.7,1744.4 1021.7,1744.9 1023.7,1745.3 1025.7,1745.5" stroke="#0a0a0a" stroke-width="6.4" fill="none" stroke-linejoin="round"/>
<g fill="none"><path d="M107.6,1663.5 V1925.5" stroke="#222" stroke-width="3.4"/><path d="M112.5,1750.0 V1837.0" stroke="#444" stroke-width="3.6"/><path d="M109.8,1700.0 V1790.0" stroke="#222" stroke-width="2.5"/><path d="M210.6,1680.0 V1849.5" stroke="#222" stroke-width="3.4"/><path d="M215.5,1750.0 V1783.0" stroke="#333" stroke-width="4"/><path d="M311.0,1677.0 V1885.5" stroke="#222" stroke-width="3.4"/><path d="M317.0,1750.0 V1812.0" stroke="#333" stroke-width="3.4"/><path d="M389.2,1693.7 V1869.0" stroke="#222" stroke-width="3.6"/><path d="M392.5,1720.0 V1830.0" stroke="#444" stroke-width="2.5"/><path d="M474.7,1693.7 V1858.0" stroke="#222" stroke-width="3.4"/><path d="M481.6,1720.0 V1859.0" stroke="#222" stroke-width="3.2"/><path d="M774.6,1715.8 V1842.7" stroke="#222" stroke-width="3.4"/><path d="M803.6,1722.0 V1804.0" stroke="#333" stroke-width="2.8"/><path d="M914.0,1703.4 V1835.8" stroke="#444" stroke-width="3.4"/><path d="M911.5,1740.0 V1835.0" stroke="#555" stroke-width="2.5"/></g>
<path d="M105.9,1663.5 h3.2 L114.1,1747 H105.9 z M208.9,1680.0 h3.2 L216.6,1747 H208.9 z M309.3,1677.0 h3.2 L317.0,1747 H309.3 z M387.5,1693.7 h3.2 L394.2,1747 H387.5 z M473.0,1693.7 h3.2 L479.7,1747 H473.0 z M772.9,1715.8 h3.2 L779.1,1747 H772.9 z M912.3,1703.4 h3.2 L918.5,1747 H912.3 z" fill="#111"/>
<polygon points="393.5,1739.4 394.5,1734.9 395.5,1726.5 396.5,1725.7 397.5,1721.1 398.5,1716.3 399.5,1713.6 400.5,1711.8 401.5,1709.7 402.5,1708.3 403.5,1706.1 404.5,1711.4 405.5,1715.3 406.5,1717.0 407.5,1722.9 408.5,1728.1 409.5,1731.2 410.5,1738.2 410.5,1745.0 409.5,1748.5 408.5,1737.9 407.5,1758.7 406.5,1756.4 405.5,1751.3 404.5,1777.0 403.5,1785.4 402.5,1791.6 401.5,1802.6 400.5,1794.1 399.5,1794.6 398.5,1817.6 397.5,1818.1 396.5,1831.6 395.5,1826.7 394.5,1805.8 393.5,1782.2" fill="#000"/>
<polygon points="778.5,1738.8 779.5,1736.1 780.5,1731.7 781.5,1737.2 782.5,1733.4 783.5,1729.6 784.5,1725.1 785.5,1725.7 786.5,1723.0 787.5,1724.0 788.5,1725.5 789.5,1722.7 790.5,1722.6 791.5,1724.3 792.5,1723.1 793.5,1722.3 794.5,1724.7 795.5,1725.5 796.5,1724.2 797.5,1729.0 798.5,1731.6 799.5,1731.8 800.5,1735.1 801.5,1738.2 801.5,1753.6 800.5,1770.6 799.5,1773.1 798.5,1783.1 797.5,1784.2 796.5,1792.0 795.5,1789.0 794.5,1805.1 793.5,1805.6 792.5,1802.0 791.5,1806.1 790.5,1812.1 789.5,1810.2 788.5,1809.8 787.5,1804.7 786.5,1799.9 785.5,1804.5 784.5,1795.8 783.5,1787.5 782.5,1782.7 781.5,1777.6 780.5,1765.7 779.5,1767.3 778.5,1756.9" fill="#000"/>
<polygon points="915.5,1743.2 916.5,1739.2 917.5,1724.7 918.5,1721.5 919.5,1719.6 920.5,1717.1 921.5,1722.8 922.5,1714.8 923.5,1717.0 924.5,1726.5 925.5,1713.7 926.5,1713.9 927.5,1713.3 928.5,1715.2 929.5,1717.7 930.5,1716.1 931.5,1717.4 932.5,1718.2 933.5,1723.6 934.5,1723.0 935.5,1724.8 936.5,1735.0 937.5,1736.6 937.5,1766.0 936.5,1777.6 935.5,1780.7 934.5,1793.6 933.5,1795.8 932.5,1803.4 931.5,1796.5 930.5,1806.3 929.5,1809.8 928.5,1799.4 927.5,1820.6 926.5,1829.1 925.5,1828.9 924.5,1830.2 923.5,1838.7 922.5,1830.4 921.5,1825.9 920.5,1828.4 919.5,1824.6 918.5,1805.9 917.5,1810.0 916.5,1805.7 915.5,1796.0" fill="#000"/>
<path d="M546.7,1737.7V1761.1M548.5,1733.3V1763.2M550.3,1728.5V1764.8M551.8,1722.1V1781.8M553.9,1718.6V1781.5M555.7,1720.3V1783.7M557.8,1717.4V1778.5M559.9,1716.1V1792.8M562.0,1717.7V1791.4M564.1,1717.6V1798.1M565.6,1718.3V1796.2M567.7,1719.1V1794.8M569.2,1719.6V1788.2M571.3,1723.9V1791.6M573.1,1731.2V1776.5M575.2,1737.9V1772.3M577.3,1734.6V1770.8M578.8,1733.0V1760.4M580.6,1725.3V1782.0M582.7,1719.4V1777.6M584.2,1718.7V1779.0M586.3,1720.1V1793.5M587.8,1719.5V1783.9M589.9,1718.6V1791.3M591.7,1720.7V1812.7M593.5,1718.7V1808.6M595.3,1719.5V1788.1M597.4,1717.9V1808.3M599.5,1718.1V1801.1M601.6,1723.3V1816.8M603.1,1720.6V1794.5M604.9,1721.0V1793.2M606.4,1725.6V1788.0M607.9,1731.3V1777.4M609.7,1735.1V1767.7M611.5,1740.0V1761.8M613.0,1736.0V1752.7M628.1,1728.9V1773.1M629.6,1724.0V1789.6M631.1,1722.6V1771.2M632.9,1719.6V1797.5M635.0,1723.2V1802.4M636.8,1721.7V1790.3M638.6,1723.2V1799.8M640.1,1726.8V1779.7M642.2,1732.3V1774.0M644.3,1735.2V1766.6M646.4,1736.8V1756.1M647.9,1733.7V1766.0M649.7,1734.3V1771.1M651.5,1728.7V1772.8M653.6,1725.7V1783.2M655.4,1725.4V1791.9M656.9,1725.0V1784.6M658.4,1723.1V1791.9M660.5,1724.4V1798.6M662.6,1725.0V1780.2M664.1,1723.0V1799.1M666.2,1728.4V1798.1M668.3,1729.1V1767.8M670.4,1727.5V1769.7M671.9,1727.0V1785.9M674.0,1724.8V1786.4M676.1,1731.3V1789.6M677.9,1726.8V1777.1M679.4,1731.2V1782.2M680.9,1733.5V1775.0M683.0,1729.7V1793.6M684.8,1729.5V1783.8M686.9,1730.7V1804.7M689.0,1728.1V1793.0M690.8,1730.1V1805.4M692.3,1731.3V1803.8M694.4,1733.8V1769.2M695.9,1737.2V1753.2M697.4,1737.4V1751.3M699.2,1733.1V1749.0M701.3,1729.5V1771.0M722.9,1737.6V1765.0M724.7,1738.7V1762.0M726.5,1735.5V1757.6M728.3,1733.5V1765.4M730.4,1733.4V1759.6M732.5,1733.2V1758.2M734.3,1742.2V1749.0M736.1,1740.8V1759.6" stroke="#0c0c0c" stroke-width="1.7" fill="none"/>
<polygon points="478.0,1737.9 481.0,1737.4 484.0,1736.7 487.0,1735.1 490.0,1736.0 493.0,1736.8 496.0,1736.4 499.0,1737.2 502.0,1737.0 505.0,1737.7 508.0,1736.9 511.0,1735.6 514.0,1735.3 517.0,1735.3 520.0,1737.8 523.0,1737.8 526.0,1737.3 529.0,1738.5 532.0,1738.1 535.0,1738.0 538.0,1736.3 541.0,1735.9 544.0,1738.5 547.0,1737.4 550.0,1735.8 553.0,1735.8 556.0,1736.1 559.0,1735.7 562.0,1737.0 565.0,1737.7 568.0,1734.6 571.0,1736.7 574.0,1739.3 577.0,1738.0 580.0,1737.6 583.0,1736.7 586.0,1735.9 589.0,1737.0 592.0,1738.1 595.0,1738.4 598.0,1737.6 601.0,1736.2 604.0,1735.8 607.0,1737.4 610.0,1739.0 613.0,1737.6 616.0,1735.7 619.0,1737.3 622.0,1738.5 625.0,1737.9 628.0,1735.9 631.0,1734.8 634.0,1735.6 637.0,1736.2 640.0,1735.0 643.0,1736.1 646.0,1738.1 649.0,1737.2 652.0,1735.8 655.0,1735.3 658.0,1737.8 661.0,1736.3 664.0,1735.2 667.0,1737.5 670.0,1736.5 673.0,1736.6 676.0,1737.0 679.0,1737.4 682.0,1738.3 685.0,1737.3 688.0,1738.7 691.0,1739.3 694.0,1738.6 697.0,1736.6 700.0,1734.7 703.0,1736.7 706.0,1738.2 709.0,1737.3 712.0,1737.2 715.0,1736.2 718.0,1735.7 721.0,1735.6 724.0,1735.7 727.0,1736.4 730.0,1735.4 733.0,1735.9 736.0,1738.4 736.0,1750.3 733.0,1751.0 730.0,1752.1 727.0,1749.9 724.0,1747.2 721.0,1749.0 718.0,1751.3 715.0,1752.4 712.0,1751.6 709.0,1749.3 706.0,1751.2 703.0,1753.4 700.0,1753.4 697.0,1753.5 694.0,1752.4 691.0,1751.2 688.0,1750.2 685.0,1749.2 682.0,1748.0 679.0,1749.3 676.0,1751.4 673.0,1749.1 670.0,1748.0 667.0,1749.3 664.0,1750.2 661.0,1750.7 658.0,1752.7 655.0,1751.3 652.0,1747.7 649.0,1747.9 646.0,1751.0 643.0,1752.7 640.0,1750.3 637.0,1749.8 634.0,1751.2 631.0,1750.4 628.0,1750.4 625.0,1751.7 622.0,1751.1 619.0,1751.1 616.0,1751.3 613.0,1748.1 610.0,1748.3 607.0,1751.2 604.0,1750.0 601.0,1749.0 598.0,1750.6 595.0,1752.4 592.0,1750.9 589.0,1750.9 586.0,1752.6 583.0,1753.8 580.0,1754.0 577.0,1752.6 574.0,1750.0 571.0,1747.9 568.0,1750.9 565.0,1752.7 562.0,1751.8 559.0,1752.1 556.0,1751.3 553.0,1751.1 550.0,1751.2 547.0,1750.1 544.0,1750.7 541.0,1750.5 538.0,1750.4 535.0,1750.8 532.0,1751.1 529.0,1752.1 526.0,1752.3 523.0,1753.3 520.0,1751.6 517.0,1748.6 514.0,1749.7 511.0,1751.8 508.0,1752.2 505.0,1753.4 502.0,1753.1 499.0,1751.4 496.0,1751.3 493.0,1753.0 490.0,1752.3 487.0,1751.6 484.0,1751.5 481.0,1749.4 478.0,1749.0" fill="#000"/>
<path d="M476.5,1735.0V1749.0M477.8,1715.4V1775.4M479.1,1713.4V1789.5M480.4,1710.2V1796.3M481.7,1709.9V1818.9M483.0,1708.7V1804.6M484.3,1710.4V1830.1M485.6,1708.5V1809.0M486.9,1708.2V1811.2M488.2,1709.6V1814.1M489.5,1709.8V1819.6M490.8,1708.6V1807.7M492.1,1710.2V1812.4M493.4,1714.1V1799.6M494.7,1713.1V1795.0M496.0,1714.7V1792.1M497.3,1712.6V1786.0M498.6,1717.3V1781.4M499.9,1719.6V1770.8M501.2,1719.6V1771.0M502.5,1724.1V1782.5M503.8,1728.6V1778.1M505.1,1729.0V1775.7M506.4,1728.9V1768.1M507.7,1729.7V1786.7M509.0,1729.7V1783.0M510.3,1728.0V1785.2M511.6,1727.9V1788.6M512.9,1731.6V1796.7M514.2,1730.1V1794.0M515.5,1721.8V1792.1M516.8,1716.3V1787.5M518.1,1713.4V1790.1M519.4,1710.6V1797.6M520.7,1711.7V1796.6M522.0,1710.7V1799.2M523.3,1710.7V1789.8M524.6,1712.8V1784.9M525.9,1713.7V1782.9M527.2,1713.2V1787.1M528.5,1713.3V1779.5M529.8,1712.0V1777.9M531.1,1714.7V1788.3M532.4,1715.2V1780.6M533.7,1712.9V1778.6M535.0,1713.6V1790.0M536.3,1715.4V1770.7M537.6,1719.4V1776.9M538.9,1716.3V1777.9M540.2,1717.8V1769.9M541.5,1722.3V1766.8M542.8,1724.8V1764.9M544.1,1728.5V1778.1M545.4,1732.0V1750.7M615.1,1727.3V1761.0M616.4,1726.9V1785.5M617.7,1727.9V1783.4M619.0,1726.1V1797.0M620.3,1725.9V1791.0M621.6,1729.5V1805.3M622.9,1728.1V1796.5M624.2,1729.6V1792.3M625.5,1727.9V1776.5M626.8,1725.6V1771.1M703.4,1723.0V1776.2M704.7,1725.8V1782.4M706.0,1721.2V1771.9M707.3,1722.7V1776.0M708.6,1725.8V1776.8M709.9,1725.7V1780.1M711.2,1729.2V1773.8M712.5,1728.7V1796.8M713.8,1729.2V1792.8M715.1,1732.8V1794.1M716.4,1732.6V1773.3M717.7,1732.2V1778.5M719.0,1736.2V1776.0M720.3,1736.4V1765.8M721.6,1735.1V1775.3" stroke="#000" stroke-width="1.9" fill="none"/>
<path d="M518.8,1745V1833.0M636.6,1745V1832.0M673.3,1745V1850.0M704.0,1745V1841.0M728.5,1745V1848.0M553.0,1745V1815.0M596.0,1745V1814.0M611.0,1745V1822.0M629.0,1745V1828.0M656.0,1745V1815.0M664.0,1745V1826.0M690.0,1745V1820.0M720.0,1745V1800.0M501.0,1745V1800.0M538.0,1745V1802.0" stroke="#222" stroke-width="3" fill="none"/>
</g>
<g id="panel-d">
<text x="1198.1" y="89.2" font-family='"Liberation Sans", sans-serif' font-size="60.3" font-weight="bold" textLength="44.7" lengthAdjust="spacingAndGlyphs" fill="#000">D</text>
<polygon points="1359.7,254.0 1361.2,248.2 1362.7,202.6 1364.2,161.0 1365.7,128.0 1367.2,96.6 1368.7,96.6 1370.2,96.6 1371.7,96.6 1373.2,108.2 1374.7,128.8 1376.2,149.8 1377.7,170.7 1379.2,191.6 1380.7,204.0 1382.2,215.8 1383.7,226.1 1385.2,230.2 1386.7,234.2 1388.2,238.3 1389.7,241.2 1391.2,240.4 1392.7,241.6 1394.2,242.8 1395.7,246.8 1397.2,247.9 1398.7,249.0 1400.2,248.6 1401.7,249.7 1403.2,250.8 1404.7,252.9 1406.2,254.0 1407.7,255.1 1409.2,256.8 1410.7,257.2 1412.2,257.6 1413.7,254.6 1415.2,255.0 1416.7,255.5 1418.2,258.9 1419.7,259.3 1421.2,259.7 1422.7,261.5 1424.2,261.9 1425.7,262.3 1427.2,259.7 1428.7,260.1 1430.2,260.5 1431.7,261.9 1433.2,262.4 1434.7,262.8 1436.2,262.4 1437.7,262.8 1439.2,263.3 1440.7,264.1 1442.2,264.2 1443.7,264.4 1445.2,266.4 1446.7,266.5 1448.2,266.7 1449.7,261.1 1451.2,261.3 1452.7,261.4 1454.2,268.8 1455.7,268.9 1457.2,269.1 1458.7,266.6 1460.2,266.8 1461.7,266.9 1463.2,267.6 1464.7,267.8 1466.2,268.0 1467.7,269.6 1469.2,269.8 1470.7,269.9 1472.2,267.7 1473.7,267.6 1475.2,267.6 1476.7,267.7 1478.2,267.6 1479.7,267.6 1481.2,264.0 1482.7,263.9 1484.2,263.9 1485.7,268.2 1487.2,268.1 1488.7,268.0 1490.2,269.1 1491.7,269.0 1493.2,268.9 1494.7,268.8 1496.2,268.8 1497.7,268.7 1499.2,263.1 1500.7,263.0 1502.2,262.9 1503.7,265.8 1505.2,265.8 1506.7,265.7 1508.2,267.9 1509.7,267.8 1511.2,267.8 1512.7,265.3 1514.2,265.2 1515.7,265.2 1517.2,263.1 1518.7,263.1 1520.2,263.0 1521.7,262.0 1523.2,262.0 1524.7,262.0 1526.2,267.5 1527.7,267.5 1529.2,267.4 1530.7,267.2 1532.2,267.2 1533.7,267.1 1535.2,265.2 1536.7,265.1 1538.2,264.7 1539.7,265.0 1541.2,264.7 1542.7,264.3 1544.2,264.8 1545.7,264.5 1547.2,264.1 1548.7,263.3 1550.2,263.0 1551.7,262.7 1553.2,263.2 1554.7,262.9 1556.2,262.6 1557.7,257.7 1559.2,257.4 1560.7,257.1 1562.2,258.2 1563.7,257.9 1565.2,257.6 1566.7,260.9 1568.2,260.6 1569.7,262.2 1571.2,262.6 1572.7,264.8 1574.2,267.1 1575.7,267.4 1577.2,269.6 1578.7,271.1 1580.2,275.8 1581.7,276.5 1583.2,277.1 1584.7,277.3 1586.2,277.9 1587.7,278.6 1589.2,275.9 1590.7,276.5 1592.2,277.2 1593.7,279.3 1595.2,280.0 1596.7,280.6 1598.2,278.7 1599.7,279.3 1601.2,280.0 1602.7,283.9 1604.2,284.7 1605.7,285.6 1607.2,285.1 1608.7,286.0 1610.2,286.8 1611.7,287.6 1613.2,288.5 1614.7,289.3 1616.2,293.2 1617.7,294.0 1619.2,294.8 1620.7,290.9 1622.2,291.8 1623.7,292.6 1625.2,295.0 1626.7,295.9 1628.2,296.7 1629.7,294.8 1631.2,295.6 1632.7,296.5 1634.2,297.9 1635.7,298.2 1637.2,298.4 1638.7,301.7 1640.2,302.0 1641.7,302.2 1643.2,300.2 1644.7,300.4 1646.2,300.7 1647.7,303.2 1649.2,303.4 1650.7,303.7 1652.2,302.4 1653.7,302.6 1655.2,302.8 1656.7,306.3 1658.2,306.5 1659.7,306.8 1661.2,305.1 1662.7,305.4 1664.2,305.6 1665.7,308.0 1667.2,308.7 1668.7,309.5 1670.2,309.2 1671.7,310.0 1673.2,310.7 1674.7,311.3 1676.2,312.0 1677.7,312.8 1679.2,314.4 1680.7,315.2 1682.2,315.9 1683.7,315.8 1685.2,316.5 1686.7,317.2 1688.2,317.9 1689.7,318.6 1691.2,319.3 1692.7,315.1 1694.2,315.8 1695.7,316.6 1697.2,321.5 1698.7,322.1 1700.2,322.6 1701.7,323.0 1703.2,323.5 1704.7,324.0 1706.2,325.1 1707.7,325.7 1709.2,326.2 1710.7,326.0 1712.2,326.5 1713.7,327.0 1715.2,325.7 1716.7,326.3 1718.2,326.8 1719.7,327.3 1721.2,327.8 1722.7,328.3 1724.2,332.7 1725.7,333.2 1727.2,333.7 1728.7,333.9 1730.2,334.4 1731.7,334.7 1733.2,332.4 1734.7,332.7 1736.2,333.0 1737.7,336.1 1739.2,336.4 1740.7,336.7 1742.2,335.8 1743.7,336.1 1745.2,336.4 1746.7,337.7 1748.2,338.0 1749.7,338.4 1751.2,338.8 1752.7,339.1 1754.2,339.4 1755.7,337.0 1757.2,337.3 1758.7,337.6 1760.2,336.4 1761.7,336.7 1763.2,337.1 1764.7,340.5 1766.2,340.9 1767.7,341.2 1769.2,339.1 1770.7,339.4 1772.2,339.8 1773.7,337.0 1775.2,337.4 1776.7,337.7 1778.2,343.7 1779.7,344.1 1781.2,344.4 1782.7,341.6 1784.2,341.9 1785.7,342.3 1787.2,345.2 1788.7,345.6 1790.2,345.9 1791.7,346.8 1793.2,347.1 1794.7,347.4 1796.2,347.3 1797.7,347.5 1799.2,347.6 1800.7,340.0 1802.2,340.1 1803.7,340.3 1805.2,347.3 1806.7,347.4 1808.2,347.5 1809.7,349.9 1811.2,350.1 1812.7,350.2 1814.2,347.8 1815.7,347.9 1817.2,348.0 1818.7,349.6 1820.2,349.7 1821.7,349.9 1823.2,350.3 1824.7,350.4 1826.2,350.5 1827.7,348.4 1829.2,348.3 1830.7,348.2 1832.2,351.5 1833.7,351.4 1835.2,351.3 1836.7,348.0 1838.2,347.9 1839.7,347.8 1841.2,349.0 1842.7,348.9 1844.2,348.8 1845.7,347.0 1847.2,346.9 1848.7,346.8 1850.2,346.6 1851.7,346.5 1853.2,346.4 1854.7,348.1 1856.2,348.1 1857.7,348.1 1859.2,347.1 1860.7,347.1 1862.2,347.1 1863.7,347.3 1865.2,347.3 1866.7,347.3 1868.2,344.2 1869.7,344.2 1871.2,344.2 1872.7,346.8 1874.2,346.8 1875.7,346.8 1877.2,348.4 1878.7,348.4 1880.2,348.4 1881.7,348.0 1883.2,348.0 1884.7,348.0 1886.2,349.3 1887.7,349.3 1889.2,349.3 1890.7,346.0 1892.2,346.0 1893.7,346.0 1895.2,348.0 1896.7,348.0 1898.2,348.0 1899.7,346.5 1901.2,346.5 1902.7,346.5 1904.2,347.0 1905.7,347.0 1907.2,347.0 1908.7,346.0 1910.2,346.0 1911.7,346.0 1913.2,346.3 1914.7,346.3 1916.2,346.3 1917.7,346.5 1919.2,346.5 1920.7,346.5 1922.2,345.9 1923.7,345.9 1925.2,345.9 1926.7,346.9 1928.2,346.9 1929.7,346.9 1931.2,348.5 1932.7,348.5 1934.2,348.5 1935.7,345.7 1937.2,345.7 1938.7,345.7 1940.2,348.1 1941.7,348.1 1943.2,348.1 1944.7,348.9 1946.2,348.9 1947.7,348.9 1949.2,341.4 1950.7,341.4 1952.2,341.4 1953.7,343.3 1955.2,343.3 1956.7,343.3 1958.2,348.8 1959.7,348.8 1961.2,348.8 1962.7,349.2 1964.2,349.2 1965.7,349.2 1967.2,346.5 1968.7,346.5 1970.2,346.5 1971.7,348.1 1973.2,348.1 1974.7,348.1 1976.2,344.8 1977.7,344.8 1979.2,344.8 1980.7,347.6 1982.2,347.6 1983.7,347.6 1985.2,348.6 1986.7,348.7 1988.2,348.9 1989.7,348.5 1991.2,348.7 1992.7,348.9 1994.2,347.3 1995.7,347.5 1997.2,347.7 1998.7,347.9 2000.2,348.1 2001.7,348.3 2003.2,348.8 2004.7,348.9 2006.2,349.1 2007.7,348.6 2009.2,348.7 2010.7,348.9 2012.2,349.9 2013.7,350.0 2015.2,350.2 2016.7,353.0 2018.2,353.2 2019.7,353.4 2021.2,352.6 2022.7,352.7 2024.2,352.9 2025.7,354.6 2027.2,354.9 2028.7,355.2 2030.2,354.4 2031.7,354.7 2033.2,355.0 2034.7,352.4 2036.2,352.7 2037.7,353.0 2039.2,352.1 2040.7,352.4 2042.2,352.7 2043.7,356.6 2045.2,356.9 2046.7,357.2 2048.2,352.5 2049.7,352.8 2051.2,353.1 2052.7,358.1 2054.2,358.4 2055.7,358.7 2057.2,358.0 2058.7,358.3 2060.2,358.6 2061.7,360.3 2063.2,360.6 2064.7,360.9 2066.2,360.8 2067.7,361.0 2069.2,361.3 2070.7,359.2 2072.2,359.5 2073.7,359.8 2075.2,362.8 2076.7,363.1 2078.2,363.4 2079.7,364.3 2081.2,364.6 2082.7,364.9 2084.2,363.6 2085.7,363.9 2087.2,364.2 2088.7,366.6 2090.2,366.9 2091.7,367.0 2093.2,364.7 2094.7,364.8 2096.2,364.9 2097.7,365.2 2099.2,365.3 2100.7,365.5 2102.2,368.5 2103.7,368.6 2105.2,368.8 2106.7,366.2 2108.2,366.3 2109.7,366.5 2111.2,364.3 2112.7,364.5 2114.2,364.6 2115.7,364.5 2117.2,364.7 2118.7,364.8 2120.2,366.4 2121.7,366.6 2123.2,366.7 2124.7,367.4 2126.2,367.5 2127.7,367.6 2129.2,369.9 2130.7,372.1 2132.2,374.3 2133.7,375.6 2135.2,377.8 2136.7,380.0 2138.2,382.5 2139.7,382.8 2141.2,383.0 2142.7,383.2 2144.2,383.4 2145.7,383.6 2147.2,385.5 2148.7,385.7 2150.2,385.9 2151.7,386.0 2153.2,386.2 2154.7,386.4 2156.2,382.0 2157.7,382.2 2159.2,382.5 2160.7,386.3 2162.2,386.6 2163.7,386.8 2165.2,385.4 2166.7,385.6 2168.2,385.8 2169.7,387.4 2171.2,387.6 2172.7,387.8 2174.2,386.9 2175.7,387.2 2177.2,387.4 2178.7,385.4 2180.2,385.7 2181.7,385.9 2183.2,387.0 2184.7,387.2 2186.2,387.4 2187.7,385.0 2189.2,385.3 2190.7,385.6 2192.2,390.1 2193.7,390.4 2195.2,390.7 2196.7,394.1 2198.2,394.3 2199.7,394.6 2201.2,391.8 2202.7,392.1 2204.2,392.4 2205.7,393.3 2207.2,393.6 2208.7,393.9 2210.2,395.6 2211.7,395.9 2213.2,396.1 2214.7,395.3 2216.2,395.6 2217.7,395.8 2219.2,394.7 2220.7,394.5 2222.2,394.4 2223.7,392.5 2225.2,392.3 2226.7,392.2 2228.2,394.0 2229.7,393.8 2231.2,393.7 2232.7,396.0 2234.2,395.9 2235.7,395.7 2237.2,393.1 2238.7,393.0 2240.2,392.8 2241.7,394.6 2243.2,394.4 2244.7,394.3 2246.2,394.7 2247.7,394.5 2249.2,394.4 2250.7,386.7 2252.2,386.5 2253.7,386.4 2255.2,392.9 2256.7,392.8 2258.2,392.6 2259.7,392.1 2261.2,392.0 2262.7,391.8 2264.2,390.4 2265.7,390.7 2267.2,391.0 2268.7,394.5 2270.2,394.8 2271.7,395.1 2273.2,392.4 2274.7,392.7 2276.2,393.0 2277.7,394.0 2279.2,394.3 2280.7,394.6 2282.2,393.4 2283.7,393.7 2285.2,394.0 2286.7,396.5 2288.2,396.8 2289.7,397.1 2291.2,397.3 2292.7,397.6 2294.2,397.9 2295.7,397.8 2297.2,398.1 2298.7,398.4 2300.2,396.5 2301.7,396.8 2303.2,397.1 2304.7,400.5 2306.2,400.8 2307.7,401.1 2309.2,399.7 2310.7,400.0 2312.2,400.3 2313.7,401.5 2315.2,401.8 2316.7,402.0 2318.2,403.3 2319.7,403.5 2321.2,403.7 2322.7,402.3 2322.7,570.3 2321.2,561.9 2319.7,561.9 2318.2,571.3 2316.7,571.3 2315.2,564.6 2313.7,564.6 2312.2,563.0 2310.7,563.0 2309.2,566.7 2307.7,566.7 2306.2,565.9 2304.7,565.9 2303.2,563.1 2301.7,563.1 2300.2,568.7 2298.7,568.7 2297.2,569.9 2295.7,569.9 2294.2,566.6 2292.7,566.6 2291.2,565.2 2289.7,565.2 2288.2,575.7 2286.7,575.7 2285.2,566.4 2283.7,566.4 2282.2,567.1 2280.7,567.1 2279.2,563.0 2277.7,563.0 2276.2,564.3 2274.7,564.3 2273.2,563.8 2271.7,563.8 2270.2,564.3 2268.7,564.3 2267.2,564.0 2265.7,564.0 2264.2,561.6 2262.7,561.6 2261.2,564.7 2259.7,564.7 2258.2,563.5 2256.7,563.5 2255.2,567.0 2253.7,567.0 2252.2,563.2 2250.7,563.2 2249.2,563.1 2247.7,563.1 2246.2,566.6 2244.7,566.6 2243.2,563.3 2241.7,563.3 2240.2,561.0 2238.7,561.0 2237.2,561.2 2235.7,561.2 2234.2,566.7 2232.7,566.7 2231.2,564.9 2229.7,564.9 2228.2,564.9 2226.7,564.9 2225.2,564.9 2223.7,564.9 2222.2,562.7 2220.7,562.7 2219.2,564.0 2217.7,564.0 2216.2,561.7 2214.7,561.7 2213.2,564.8 2211.7,564.8 2210.2,565.3 2208.7,565.3 2207.2,566.2 2205.7,566.2 2204.2,567.2 2202.7,567.2 2201.2,567.8 2199.7,567.8 2198.2,563.6 2196.7,563.6 2195.2,563.6 2193.7,563.6 2192.2,562.0 2190.7,562.0 2189.2,562.5 2187.7,562.5 2186.2,564.7 2184.7,564.8 2183.2,563.5 2181.7,563.6 2180.2,566.7 2178.7,566.8 2177.2,565.0 2175.7,565.2 2174.2,571.1 2172.7,571.2 2171.2,562.7 2169.7,562.8 2168.2,567.3 2166.7,567.4 2165.2,564.5 2163.7,564.6 2162.2,567.5 2160.7,567.6 2159.2,568.2 2157.7,568.3 2156.2,571.7 2154.7,571.8 2153.2,566.6 2151.7,566.8 2150.2,572.1 2148.7,573.0 2147.2,569.9 2145.7,570.8 2144.2,573.8 2142.7,574.7 2141.2,570.9 2139.7,571.8 2138.2,575.2 2136.7,576.2 2135.2,577.7 2133.7,578.7 2132.2,579.0 2130.7,579.9 2129.2,582.8 2127.7,583.7 2126.2,581.8 2124.7,582.8 2123.2,585.3 2121.7,585.3 2120.2,585.4 2118.7,585.4 2117.2,589.2 2115.7,589.2 2114.2,579.6 2112.7,579.7 2111.2,586.4 2109.7,586.5 2108.2,584.5 2106.7,584.6 2105.2,587.6 2103.7,587.6 2102.2,584.8 2100.7,584.8 2099.2,581.4 2097.7,581.5 2096.2,585.9 2094.7,586.5 2093.2,584.8 2091.7,585.4 2090.2,588.1 2088.7,588.7 2087.2,587.6 2085.7,588.2 2084.2,590.3 2082.7,590.9 2081.2,590.0 2079.7,590.5 2078.2,588.1 2076.7,588.8 2075.2,594.3 2073.7,595.0 2072.2,591.6 2070.7,592.3 2069.2,595.2 2067.7,595.9 2066.2,594.0 2064.7,594.7 2063.2,602.7 2061.7,603.4 2060.2,599.5 2058.7,600.2 2057.2,601.7 2055.7,602.9 2054.2,608.5 2052.7,609.8 2051.2,611.4 2049.7,612.7 2048.2,611.2 2046.7,612.4 2045.2,610.8 2043.7,612.0 2042.2,612.4 2040.7,613.6 2039.2,616.3 2037.7,617.5 2036.2,618.3 2034.7,619.6 2033.2,619.4 2031.7,620.6 2030.2,625.8 2028.7,627.0 2027.2,622.9 2025.7,624.1 2024.2,625.3 2022.7,626.5 2021.2,628.7 2019.7,630.2 2018.2,637.0 2016.7,638.5 2015.2,641.7 2013.7,643.2 2012.2,640.3 2010.7,641.8 2009.2,638.6 2007.7,640.1 2006.2,645.1 2004.7,646.5 2003.2,644.1 2001.7,645.2 2000.2,649.6 1998.7,650.8 1997.2,653.3 1995.7,654.5 1994.2,654.0 1992.7,655.2 1991.2,666.3 1989.7,667.4 1988.2,653.7 1986.7,654.9 1985.2,662.1 1983.7,663.2 1982.2,670.1 1980.7,671.2 1979.2,665.3 1977.7,666.2 1976.2,668.5 1974.7,669.4 1973.2,664.3 1971.7,665.2 1970.2,675.0 1968.7,675.9 1967.2,674.0 1965.7,674.9 1964.2,674.9 1962.7,675.8 1961.2,678.2 1959.7,679.0 1958.2,677.1 1956.7,677.8 1955.2,682.9 1953.7,683.7 1952.2,682.8 1950.7,683.5 1949.2,680.7 1947.7,681.5 1946.2,684.5 1944.7,685.3 1943.2,688.0 1941.7,688.8 1940.2,688.8 1938.7,689.5 1937.2,686.8 1935.7,687.4 1934.2,687.5 1932.7,688.2 1931.2,693.4 1929.7,694.1 1928.2,692.2 1926.7,692.9 1925.2,690.4 1923.7,691.1 1922.2,707.6 1920.7,708.3 1919.2,692.9 1917.7,693.5 1916.2,692.0 1914.7,692.7 1913.2,695.6 1911.7,696.2 1910.2,700.7 1908.7,701.3 1907.2,699.6 1905.7,700.3 1904.2,699.4 1902.7,700.0 1901.2,703.3 1899.7,703.9 1898.2,706.1 1896.7,707.1 1895.2,707.6 1893.7,708.6 1892.2,710.8 1890.7,711.8 1889.2,706.4 1887.7,707.4 1886.2,707.4 1884.7,708.4 1883.2,719.7 1881.7,720.8 1880.2,716.5 1878.7,717.5 1877.2,724.0 1875.7,725.1 1874.2,741.3 1872.7,742.3 1871.2,726.7 1869.7,727.7 1868.2,722.3 1866.7,723.3 1865.2,723.4 1863.7,724.3 1862.2,727.6 1860.7,728.5 1859.2,735.0 1857.7,736.0 1856.2,739.5 1854.7,740.4 1853.2,738.3 1851.7,739.3 1850.2,742.1 1848.7,742.9 1847.2,736.9 1845.7,737.8 1844.2,738.9 1842.7,739.7 1841.2,740.0 1839.7,740.8 1838.2,744.7 1836.7,745.5 1835.2,743.4 1833.7,744.2 1832.2,754.7 1830.7,755.5 1829.2,745.2 1827.7,745.8 1826.2,753.3 1824.7,753.8 1823.2,761.5 1821.7,762.1 1820.2,756.2 1818.7,756.7 1817.2,756.2 1815.7,756.7 1814.2,756.0 1812.7,756.5 1811.2,765.3 1809.7,765.9 1808.2,753.5 1806.7,754.0 1805.2,759.6 1803.7,760.1 1802.2,768.3 1800.7,768.9 1799.2,752.0 1797.7,752.7 1796.2,761.1 1794.7,761.9 1793.2,755.4 1791.7,756.1 1790.2,761.4 1788.7,762.2 1787.2,757.5 1785.7,758.5 1784.2,764.6 1782.7,765.8 1781.2,770.5 1779.7,771.6 1778.2,785.8 1776.7,786.9 1775.2,781.7 1773.7,782.8 1772.2,775.9 1770.7,777.0 1769.2,773.5 1767.7,774.6 1766.2,775.6 1764.7,775.9 1763.2,782.6 1761.7,782.9 1760.2,780.3 1758.7,780.6 1757.2,787.4 1755.7,787.7 1754.2,786.0 1752.7,786.2 1751.2,784.3 1749.7,784.6 1748.2,808.8 1746.7,809.1 1745.2,790.6 1743.7,790.9 1742.2,784.0 1740.7,784.3 1739.2,780.9 1737.7,781.2 1736.2,783.8 1734.7,800.0 1733.2,812.0 1731.7,785.9 1730.2,779.1 1728.7,778.1 1727.2,778.5 1725.7,777.5 1724.2,778.7 1722.7,777.7 1721.2,772.7 1719.7,771.7 1718.2,775.3 1716.7,774.2 1715.2,778.1 1713.7,777.0 1712.2,788.2 1710.7,787.3 1709.2,771.5 1707.7,770.7 1706.2,766.3 1704.7,765.4 1703.2,763.1 1701.7,762.2 1700.2,761.0 1698.7,760.9 1697.2,759.7 1695.7,759.7 1694.2,765.0 1692.7,765.0 1691.2,757.4 1689.7,756.0 1688.2,759.7 1686.7,758.0 1685.2,754.9 1683.7,753.2 1682.2,752.1 1680.7,750.4 1679.2,752.6 1677.7,751.2 1676.2,749.7 1674.7,748.5 1673.2,747.0 1671.7,746.4 1670.2,742.2 1668.7,742.1 1667.2,744.3 1665.7,743.6 1664.2,746.0 1662.7,745.7 1661.2,742.9 1659.7,742.6 1658.2,742.9 1656.7,742.6 1655.2,740.1 1653.7,739.8 1652.2,741.5 1650.7,741.2 1649.2,738.7 1647.7,738.8 1646.2,741.7 1644.7,741.9 1643.2,742.4 1641.7,742.6 1640.2,741.8 1638.7,742.0 1637.2,742.7 1635.7,742.9 1634.2,742.9 1632.7,743.1 1631.2,742.6 1629.7,742.8 1628.2,742.6 1626.7,742.8 1625.2,743.0 1623.7,741.5 1622.2,742.8 1620.7,741.4 1619.2,739.0 1617.7,737.6 1616.2,732.4 1614.7,731.0 1613.2,736.6 1611.7,735.2 1610.2,728.4 1608.7,726.9 1607.2,725.1 1605.7,723.7 1604.2,725.8 1602.7,724.4 1601.2,725.4 1599.7,724.3 1598.2,715.9 1596.7,714.8 1595.2,718.1 1593.7,717.0 1592.2,711.1 1590.7,710.0 1589.2,712.8 1587.7,711.7 1586.2,709.1 1584.7,708.0 1583.2,706.7 1581.7,705.6 1580.2,706.2 1578.7,705.1 1577.2,706.0 1575.7,704.9 1574.2,698.7 1572.7,696.8 1571.2,695.0 1569.7,693.1 1568.2,691.2 1566.7,689.3 1565.2,689.3 1563.7,687.4 1562.2,684.6 1560.7,682.7 1559.2,680.1 1557.7,678.3 1556.2,675.8 1554.7,673.9 1553.2,673.2 1551.7,671.5 1550.2,670.1 1548.7,668.9 1547.2,668.0 1545.7,666.7 1544.2,669.0 1542.7,667.8 1541.2,661.1 1539.7,659.8 1538.2,660.3 1536.7,659.1 1535.2,658.2 1533.7,657.0 1532.2,654.0 1530.7,652.8 1529.2,653.2 1527.7,652.0 1526.2,657.1 1524.7,655.9 1523.2,649.1 1521.7,647.8 1520.2,647.8 1518.7,646.9 1517.2,644.2 1515.7,643.3 1514.2,646.6 1512.7,645.7 1511.2,640.8 1509.7,639.9 1508.2,637.4 1506.7,636.5 1505.2,635.6 1503.7,634.8 1502.2,637.1 1500.7,636.2 1499.2,631.3 1497.7,630.4 1496.2,631.5 1494.7,630.7 1493.2,635.3 1491.7,634.4 1490.2,628.9 1488.7,628.0 1487.2,624.7 1485.7,624.3 1484.2,628.8 1482.7,628.3 1481.2,624.2 1479.7,623.7 1478.2,625.1 1476.7,624.7 1475.2,623.8 1473.7,623.3 1472.2,622.7 1470.7,622.3 1469.2,619.4 1467.7,619.0 1466.2,624.5 1464.7,624.1 1463.2,618.8 1461.7,618.4 1460.2,617.8 1458.7,617.4 1457.2,615.7 1455.7,615.2 1454.2,614.3 1452.7,613.7 1451.2,613.5 1449.7,612.9 1448.2,612.7 1446.7,612.1 1445.2,612.9 1443.7,612.3 1442.2,614.9 1440.7,614.3 1439.2,613.6 1437.7,613.0 1436.2,608.5 1434.7,607.9 1433.2,607.9 1431.7,607.3 1430.2,604.8 1428.7,604.2 1427.2,605.1 1425.7,604.5 1424.2,612.0 1422.7,610.4 1421.2,598.7 1419.7,596.9 1418.2,597.1 1416.7,595.4 1415.2,594.9 1413.7,593.1 1412.2,588.3 1410.7,586.6 1409.2,586.6 1407.7,585.2 1406.2,585.2 1404.7,585.2 1403.2,582.6 1401.7,582.6 1400.2,585.1 1398.7,585.1 1397.2,585.5 1395.7,585.5 1394.2,585.0 1392.7,585.0 1391.2,584.6 1389.7,584.6 1388.2,583.6 1386.7,583.6 1385.2,584.5 1383.7,584.5 1382.2,586.0 1380.7,583.0 1379.2,578.4 1377.7,575.0 1376.2,570.0 1374.7,566.3 1373.2,562.5 1371.7,557.7 1370.2,553.0 1368.7,548.2 1367.2,543.4 1365.7,538.5 1364.2,538.0 1362.7,533.2 1361.2,525.2 1359.7,524.6" fill="#0b27d4"/>
<polygon points="1311.0,491.7 1312.5,491.7 1314.0,492.6 1315.5,492.6 1317.0,489.6 1318.5,489.6 1320.0,491.9 1321.5,491.9 1323.0,492.1 1324.5,492.1 1326.0,491.4 1327.5,491.4 1329.0,492.2 1330.5,492.2 1332.0,492.4 1333.5,492.4 1335.0,492.8 1336.5,492.8 1338.0,491.7 1339.5,491.7 1341.0,492.0 1342.5,492.0 1344.0,492.8 1345.5,492.8 1347.0,491.5 1348.5,491.5 1350.0,492.2 1351.5,492.2 1353.0,492.0 1354.5,492.0 1356.0,492.1 1357.5,492.1 1359.0,492.5 1360.5,492.5 1362.0,492.3 1362.0,521.9 1360.5,522.4 1359.0,522.4 1357.5,522.2 1356.0,522.2 1354.5,523.6 1353.0,523.6 1351.5,522.3 1350.0,522.3 1348.5,524.6 1347.0,524.6 1345.5,524.4 1344.0,524.4 1342.5,524.9 1341.0,524.9 1339.5,524.0 1338.0,524.0 1336.5,521.9 1335.0,521.9 1333.5,522.4 1332.0,522.4 1330.5,524.6 1329.0,524.6 1327.5,523.6 1326.0,523.6 1324.5,523.3 1323.0,523.3 1321.5,522.2 1320.0,522.2 1318.5,527.0 1317.0,527.0 1315.5,523.7 1314.0,523.7 1312.5,523.1 1311.0,523.1" fill="#0b27d4"/>
<polygon points="2320.0,489.3 2321.5,489.3 2323.0,488.4 2324.5,488.4 2326.0,488.2 2327.5,488.2 2329.0,488.8 2330.5,488.8 2332.0,487.2 2333.5,487.2 2335.0,487.8 2336.5,487.8 2338.0,488.6 2339.5,488.6 2341.0,489.4 2342.5,489.4 2344.0,489.4 2345.5,489.4 2347.0,489.4 2348.5,489.4 2350.0,487.9 2351.5,487.9 2353.0,488.8 2354.5,488.8 2356.0,489.1 2357.5,489.1 2359.0,489.1 2360.5,489.1 2362.0,488.3 2363.5,488.3 2365.0,487.1 2366.5,487.1 2368.0,487.7 2369.5,487.7 2371.0,486.3 2372.5,486.3 2374.0,489.1 2375.5,489.1 2377.0,489.2 2378.5,489.2 2380.0,488.5 2381.5,488.5 2383.0,488.3 2384.5,488.3 2386.0,487.2 2387.5,487.2 2389.0,487.5 2390.5,487.5 2392.0,488.5 2393.5,488.5 2395.0,487.3 2396.5,487.3 2398.0,488.8 2399.5,488.8 2401.0,487.8 2402.5,487.8 2404.0,488.7 2405.5,488.7 2407.0,489.7 2408.5,489.7 2410.0,489.5 2411.5,489.5 2413.0,488.2 2414.5,488.2 2416.0,487.4 2417.5,487.4 2419.0,489.3 2420.5,489.3 2422.0,487.7 2423.5,487.7 2425.0,489.5 2426.5,489.5 2428.0,488.4 2429.5,488.4 2431.0,488.9 2432.5,488.9 2434.0,486.3 2435.5,486.3 2437.0,487.5 2438.5,487.5 2440.0,488.4 2441.5,488.4 2443.0,489.4 2444.5,489.4 2446.0,489.6 2447.5,489.6 2449.0,487.4 2450.5,487.4 2452.0,489.1 2453.5,489.1 2455.0,489.2 2456.5,489.2 2458.0,489.0 2459.5,489.0 2461.0,489.8 2462.5,489.8 2464.0,489.6 2465.5,489.6 2467.0,489.4 2467.0,521.8 2465.5,523.5 2464.0,523.5 2462.5,524.0 2461.0,524.0 2459.5,522.1 2458.0,522.1 2456.5,522.6 2455.0,522.6 2453.5,522.5 2452.0,522.5 2450.5,521.3 2449.0,521.3 2447.5,522.5 2446.0,522.5 2444.5,521.4 2443.0,521.4 2441.5,522.2 2440.0,522.2 2438.5,521.9 2437.0,521.9 2435.5,521.2 2434.0,521.2 2432.5,522.7 2431.0,522.7 2429.5,523.0 2428.0,523.0 2426.5,522.2 2425.0,522.2 2423.5,522.2 2422.0,522.2 2420.5,523.5 2419.0,523.5 2417.5,524.4 2416.0,524.4 2414.5,520.8 2413.0,520.8 2411.5,523.1 2410.0,523.1 2408.5,521.2 2407.0,521.2 2405.5,527.2 2404.0,527.2 2402.5,523.1 2401.0,523.1 2399.5,523.5 2398.0,523.5 2396.5,523.0 2395.0,523.0 2393.5,523.5 2392.0,523.5 2390.5,522.5 2389.0,522.5 2387.5,521.2 2386.0,521.2 2384.5,522.6 2383.0,522.6 2381.5,523.2 2380.0,523.2 2378.5,521.6 2377.0,521.6 2375.5,521.6 2374.0,521.6 2372.5,521.4 2371.0,521.4 2369.5,522.6 2368.0,522.6 2366.5,522.4 2365.0,522.4 2363.5,525.0 2362.0,525.0 2360.5,523.4 2359.0,523.4 2357.5,523.4 2356.0,523.4 2354.5,522.8 2353.0,522.8 2351.5,522.8 2350.0,522.8 2348.5,521.4 2347.0,521.4 2345.5,521.3 2344.0,521.3 2342.5,528.1 2341.0,528.1 2339.5,521.9 2338.0,521.9 2336.5,521.9 2335.0,521.9 2333.5,521.7 2332.0,521.7 2330.5,523.4 2329.0,523.4 2327.5,521.1 2326.0,521.1 2324.5,522.5 2323.0,522.5 2321.5,524.4 2320.0,524.4" fill="#0b27d4"/>
<path d="M1313,493 L1318,488 L1323.5,485.5 L1328,489 L1333,493 z M2462.5,489 v-6 h4 v6 z M2375,489 v-5 h3 v5 z M1349.5,522 v7.5 h4 v-7.5 z" fill="#0b27d4"/>
<path d="M1365.8,520 V672" stroke="#0b27d4" stroke-width="5" fill="none"/>
<path d="M1361.5,520 V568 M1373,540 V585" stroke="#0b27d4" stroke-width="5" fill="none"/>
<polygon points="1359.7,254.4 1361.2,249.5 1362.7,209.0 1364.2,171.5 1365.7,156.6 1367.2,150.8 1368.7,150.5 1370.2,150.2 1371.7,155.1 1373.2,167.7 1374.7,181.2 1376.2,190.2 1377.7,200.6 1379.2,212.6 1380.7,224.6 1382.2,229.9 1383.7,233.5 1385.2,237.2 1386.7,240.1 1388.2,241.6 1389.7,242.6 1391.2,246.7 1392.7,248.1 1394.2,249.4 1395.7,250.5 1397.2,251.6 1398.7,252.7 1400.2,254.9 1401.7,256.0 1403.2,257.0 1404.7,251.5 1406.2,252.5 1407.7,253.6 1409.2,255.9 1410.7,256.3 1412.2,256.7 1413.7,260.4 1415.2,260.8 1416.7,261.2 1418.2,253.1 1419.7,253.5 1421.2,253.8 1422.7,264.7 1424.2,265.1 1425.7,265.5 1427.2,262.0 1428.7,262.4 1430.2,262.8 1431.7,264.8 1433.2,265.2 1434.7,265.6 1436.2,262.3 1437.7,262.7 1439.2,263.1 1440.7,265.1 1442.2,265.3 1443.7,265.5 1445.2,267.5 1446.7,267.6 1448.2,267.8 1449.7,269.4 1451.2,269.6 1452.7,269.7 1454.2,268.4 1455.7,268.6 1457.2,268.8 1458.7,268.7 1460.2,268.8 1461.7,269.0 1463.2,270.0 1464.7,270.1 1466.2,270.3 1467.7,268.1 1469.2,268.3 1470.7,268.4 1472.2,269.7 1473.7,269.6 1475.2,269.5 1476.7,267.1 1478.2,267.0 1479.7,266.9 1481.2,270.3 1482.7,270.2 1484.2,270.1 1485.7,268.2 1487.2,268.1 1488.7,268.0 1490.2,263.2 1491.7,263.2 1493.2,263.1 1494.7,270.0 1496.2,269.9 1497.7,269.8 1499.2,268.4 1500.7,268.3 1502.2,268.2 1503.7,266.5 1505.2,266.5 1506.7,266.5 1508.2,266.8 1509.7,266.8 1511.2,266.7 1512.7,267.0 1514.2,267.0 1515.7,267.0 1517.2,265.4 1518.7,265.3 1520.2,265.3 1521.7,265.4 1523.2,265.3 1524.7,265.3 1526.2,267.0 1527.7,267.0 1529.2,267.0 1530.7,262.7 1532.2,262.7 1533.7,262.7 1535.2,269.8 1536.7,269.7 1538.2,269.4 1539.7,265.6 1541.2,265.2 1542.7,264.9 1544.2,266.9 1545.7,266.5 1547.2,266.2 1548.7,263.4 1550.2,263.1 1551.7,262.7 1553.2,264.9 1554.7,264.5 1556.2,264.2 1557.7,262.1 1559.2,261.8 1560.7,261.4 1562.2,263.9 1563.7,263.5 1565.2,263.2 1566.7,258.9 1568.2,258.5 1569.7,260.1 1571.2,262.3 1572.7,264.6 1574.2,266.9 1575.7,270.1 1577.2,272.4 1578.7,273.9 1580.2,276.7 1581.7,277.4 1583.2,278.0 1584.7,273.7 1586.2,274.3 1587.7,274.9 1589.2,278.6 1590.7,279.2 1592.2,279.8 1593.7,280.6 1595.2,281.2 1596.7,281.8 1598.2,282.7 1599.7,283.3 1601.2,284.0 1602.7,286.3 1604.2,287.1 1605.7,288.0 1607.2,286.6 1608.7,287.5 1610.2,288.3 1611.7,292.0 1613.2,292.9 1614.7,293.7 1616.2,292.9 1617.7,293.8 1619.2,294.6 1620.7,294.3 1622.2,295.2 1623.7,296.0 1625.2,297.4 1626.7,298.3 1628.2,299.1 1629.7,301.6 1631.2,302.4 1632.7,303.2 1634.2,302.0 1635.7,302.2 1637.2,302.5 1638.7,302.5 1640.2,302.7 1641.7,302.9 1643.2,301.1 1644.7,301.3 1646.2,301.5 1647.7,297.7 1649.2,297.9 1650.7,298.2 1652.2,305.1 1653.7,305.3 1655.2,305.6 1656.7,306.2 1658.2,306.4 1659.7,306.7 1661.2,305.7 1662.7,306.0 1664.2,306.2 1665.7,304.1 1667.2,304.9 1668.7,305.6 1670.2,308.8 1671.7,309.5 1673.2,310.3 1674.7,313.7 1676.2,314.5 1677.7,315.2 1679.2,315.5 1680.7,316.2 1682.2,317.0 1683.7,316.8 1685.2,317.5 1686.7,318.3 1688.2,321.1 1689.7,321.8 1691.2,322.5 1692.7,320.2 1694.2,320.9 1695.7,321.7 1697.2,322.5 1698.7,323.0 1700.2,323.6 1701.7,325.2 1703.2,325.7 1704.7,326.2 1706.2,323.7 1707.7,324.2 1709.2,324.7 1710.7,327.3 1712.2,327.8 1713.7,328.3 1715.2,330.5 1716.7,331.0 1718.2,331.5 1719.7,331.4 1721.2,331.9 1722.7,332.4 1724.2,330.1 1725.7,330.6 1727.2,331.1 1728.7,333.9 1730.2,334.4 1731.7,334.7 1733.2,337.1 1734.7,337.4 1736.2,337.7 1737.7,335.2 1739.2,335.5 1740.7,335.8 1742.2,338.0 1743.7,338.3 1745.2,338.6 1746.7,334.0 1748.2,334.3 1749.7,334.6 1751.2,330.7 1752.7,331.0 1754.2,331.3 1755.7,337.7 1757.2,338.0 1758.7,338.3 1760.2,340.7 1761.7,341.0 1763.2,341.3 1764.7,342.6 1766.2,343.0 1767.7,343.4 1769.2,341.7 1770.7,342.1 1772.2,342.4 1773.7,343.1 1775.2,343.5 1776.7,343.8 1778.2,342.0 1779.7,342.4 1781.2,342.8 1782.7,345.5 1784.2,345.9 1785.7,346.2 1787.2,346.4 1788.7,346.8 1790.2,347.2 1791.7,349.4 1793.2,349.8 1794.7,350.2 1796.2,347.6 1797.7,348.0 1799.2,348.3 1800.7,350.9 1802.2,351.3 1803.7,351.6 1805.2,351.6 1806.7,351.9 1808.2,352.2 1809.7,347.8 1811.2,348.2 1812.7,348.5 1814.2,352.2 1815.7,352.5 1817.2,352.8 1818.7,354.4 1820.2,354.7 1821.7,355.1 1823.2,354.3 1824.7,354.6 1826.2,354.9 1827.7,351.0 1829.2,351.2 1830.7,351.4 1832.2,358.8 1833.7,359.0 1835.2,359.1 1836.7,356.6 1838.2,356.8 1839.7,356.9 1841.2,355.8 1842.7,356.0 1844.2,356.2 1845.7,359.2 1847.2,359.4 1848.7,359.6 1850.2,358.9 1851.7,359.2 1853.2,359.4 1854.7,358.5 1856.2,358.8 1857.7,359.0 1859.2,356.7 1860.7,357.0 1862.2,357.3 1863.7,358.6 1865.2,358.8 1866.7,359.1 1868.2,362.6 1869.7,362.8 1871.2,363.1 1872.7,361.6 1874.2,361.9 1875.7,362.2 1877.2,363.0 1878.7,363.3 1880.2,363.5 1881.7,362.0 1883.2,362.2 1884.7,362.5 1886.2,365.3 1887.7,366.6 1889.2,369.2 1890.7,370.8 1892.2,373.4 1893.7,375.9 1895.2,378.9 1896.7,415.3 1898.2,402.0 1899.7,380.3 1901.2,380.6 1902.7,380.9 1904.2,381.3 1905.7,381.6 1907.2,381.9 1908.7,385.0 1910.2,385.2 1911.7,385.5 1913.2,383.7 1914.7,384.0 1916.2,384.3 1917.7,381.3 1919.2,381.6 1920.7,381.9 1922.2,381.6 1923.7,381.9 1925.2,382.2 1926.7,384.7 1928.2,385.0 1929.7,413.4 1931.2,403.7 1932.7,387.4 1934.2,387.9 1935.7,385.8 1937.2,386.2 1938.7,386.7 1940.2,387.4 1941.7,387.9 1943.2,388.4 1944.7,385.6 1946.2,386.1 1947.7,386.5 1949.2,393.2 1950.7,393.6 1952.2,394.1 1953.7,396.0 1955.2,396.5 1956.7,397.0 1958.2,384.7 1959.7,385.2 1961.2,419.6 1962.7,419.8 1964.2,399.7 1965.7,400.0 1967.2,400.4 1968.7,400.7 1970.2,401.0 1971.7,399.3 1973.2,399.6 1974.7,399.9 1976.2,400.7 1977.7,401.1 1979.2,401.4 1980.7,399.7 1982.2,400.0 1983.7,400.4 1985.2,404.5 1986.7,404.8 1988.2,405.1 1989.7,403.2 1991.2,403.5 1992.7,455.8 1994.2,437.5 1995.7,406.7 1997.2,407.2 1998.7,406.4 2000.2,406.8 2001.7,407.3 2003.2,402.6 2004.7,403.1 2006.2,403.6 2007.7,409.6 2009.2,410.1 2010.7,410.5 2012.2,411.6 2013.7,412.0 2015.2,412.5 2016.7,412.1 2018.2,412.6 2019.7,413.0 2021.2,415.5 2022.7,415.9 2024.2,416.4 2025.7,441.9 2027.2,430.2 2028.7,412.4 2030.2,414.6 2031.7,414.9 2033.2,415.2 2034.7,413.5 2036.2,413.7 2037.7,414.0 2039.2,410.1 2040.7,410.4 2042.2,410.7 2043.7,410.0 2045.2,410.3 2046.7,410.6 2048.2,414.2 2049.7,414.5 2051.2,414.8 2052.7,419.1 2054.2,419.4 2055.7,419.7 2057.2,415.4 2058.7,415.7 2060.2,416.0 2061.7,421.2 2063.2,421.6 2064.7,421.9 2066.2,416.2 2067.7,416.5 2069.2,416.9 2070.7,424.1 2072.2,424.4 2073.7,424.8 2075.2,422.2 2076.7,422.6 2078.2,422.9 2079.7,426.2 2081.2,426.5 2082.7,426.9 2084.2,424.1 2085.7,424.4 2087.2,424.7 2088.7,428.9 2090.2,439.3 2091.7,435.6 2093.2,428.4 2094.7,428.7 2096.2,429.0 2097.7,425.4 2099.2,425.7 2100.7,426.0 2102.2,427.6 2103.7,428.0 2105.2,428.3 2106.7,430.6 2108.2,430.9 2109.7,431.2 2111.2,431.6 2112.7,431.9 2114.2,432.3 2115.7,432.9 2117.2,433.2 2118.7,433.5 2120.2,432.0 2121.7,432.3 2123.2,432.7 2124.7,431.2 2126.2,431.6 2127.7,432.0 2129.2,433.2 2130.7,433.6 2132.2,433.9 2133.7,437.6 2135.2,438.0 2136.7,438.4 2138.2,439.0 2139.7,439.4 2141.2,439.7 2142.7,440.7 2144.2,441.0 2145.7,441.4 2147.2,439.6 2148.7,440.0 2150.2,440.4 2151.7,439.3 2153.2,439.7 2154.7,440.1 2156.2,441.1 2157.7,441.5 2159.2,441.9 2160.7,454.5 2162.2,450.9 2163.7,445.3 2165.2,445.5 2166.7,445.9 2168.2,446.2 2169.7,441.6 2171.2,442.0 2172.7,442.3 2174.2,445.8 2175.7,446.2 2177.2,446.6 2178.7,447.3 2180.2,447.7 2181.7,448.0 2183.2,450.4 2184.7,450.8 2186.2,451.1 2187.7,449.8 2189.2,450.0 2190.7,450.1 2192.2,449.5 2193.7,449.6 2195.2,449.8 2196.7,444.7 2198.2,444.9 2199.7,445.0 2201.2,448.8 2202.7,449.0 2204.2,449.2 2205.7,452.4 2207.2,452.5 2208.7,452.7 2210.2,452.5 2211.7,452.7 2213.2,452.9 2214.7,453.7 2216.2,453.9 2217.7,454.0 2219.2,452.5 2220.7,452.7 2222.2,452.9 2223.7,452.2 2225.2,452.4 2226.7,478.5 2228.2,469.3 2229.7,453.9 2231.2,454.0 2232.7,455.0 2234.2,455.2 2235.7,455.3 2237.2,457.2 2238.7,457.4 2240.2,457.5 2241.7,456.0 2243.2,456.1 2244.7,456.3 2246.2,453.8 2247.7,454.0 2249.2,454.1 2250.7,454.9 2252.2,455.1 2253.7,455.3 2255.2,456.6 2256.7,456.7 2258.2,456.9 2259.7,457.1 2261.2,457.3 2262.7,473.4 2264.2,466.4 2265.7,456.9 2267.2,457.1 2268.7,454.7 2270.2,454.8 2271.7,455.0 2273.2,455.5 2274.7,455.6 2276.2,455.8 2277.7,455.3 2279.2,455.5 2280.7,455.6 2282.2,459.9 2283.7,460.1 2285.2,460.2 2286.7,461.1 2288.2,461.2 2289.7,461.4 2291.2,458.5 2292.7,458.7 2294.2,458.8 2295.7,461.8 2297.2,491.9 2298.7,480.1 2300.2,461.9 2301.7,462.1 2303.2,462.3 2304.7,463.2 2306.2,463.3 2307.7,463.5 2309.2,459.4 2310.7,459.6 2312.2,459.7 2313.7,464.8 2315.2,464.9 2316.7,464.9 2318.2,461.4 2319.7,461.4 2321.2,461.4 2322.7,464.0 2322.7,540.5 2321.2,540.2 2319.7,540.2 2318.2,540.5 2316.7,540.5 2315.2,537.8 2313.7,537.8 2312.2,538.0 2310.7,538.0 2309.2,539.3 2307.7,539.3 2306.2,539.4 2304.7,539.4 2303.2,538.9 2301.7,538.9 2300.2,537.1 2298.7,537.1 2297.2,541.1 2295.7,541.1 2294.2,540.3 2292.7,540.3 2291.2,539.8 2289.7,539.8 2288.2,537.1 2286.7,537.1 2285.2,539.6 2283.7,539.6 2282.2,540.2 2280.7,540.2 2279.2,540.5 2277.7,540.5 2276.2,541.7 2274.7,541.7 2273.2,539.3 2271.7,539.3 2270.2,538.3 2268.7,538.3 2267.2,537.7 2265.7,537.7 2264.2,542.0 2262.7,542.0 2261.2,538.1 2259.7,538.1 2258.2,538.8 2256.7,538.8 2255.2,538.2 2253.7,538.2 2252.2,539.7 2250.7,539.7 2249.2,536.4 2247.7,536.4 2246.2,541.8 2244.7,541.8 2243.2,539.8 2241.7,539.8 2240.2,537.1 2238.7,537.1 2237.2,537.1 2235.7,537.1 2234.2,537.6 2232.7,537.6 2231.2,541.4 2229.7,541.4 2228.2,539.7 2226.7,539.7 2225.2,541.2 2223.7,541.2 2222.2,540.9 2220.7,540.9 2219.2,537.6 2217.7,537.6 2216.2,540.5 2214.7,540.5 2213.2,538.9 2211.7,538.9 2210.2,542.4 2208.7,542.4 2207.2,540.8 2205.7,540.8 2204.2,537.8 2202.7,537.8 2201.2,541.4 2199.7,541.4 2198.2,540.4 2196.7,540.4 2195.2,540.3 2193.7,540.3 2192.2,539.3 2190.7,539.3 2189.2,538.1 2187.7,538.1 2186.2,537.9 2184.7,538.0 2183.2,545.6 2181.7,545.7 2180.2,541.5 2178.7,541.6 2177.2,540.0 2175.7,540.1 2174.2,537.1 2172.7,537.1 2171.2,538.6 2169.7,538.6 2168.2,539.6 2166.7,539.7 2165.2,547.4 2163.7,547.5 2162.2,540.4 2160.7,540.5 2159.2,543.9 2157.7,544.0 2156.2,541.2 2154.7,541.3 2153.2,540.8 2151.7,540.9 2150.2,537.9 2148.7,538.0 2147.2,540.2 2145.7,540.2 2144.2,542.7 2142.7,542.7 2141.2,541.4 2139.7,541.4 2138.2,539.6 2136.7,539.7 2135.2,541.5 2133.7,541.6 2132.2,540.3 2130.7,540.4 2129.2,541.9 2127.7,541.9 2126.2,542.7 2124.7,542.8 2123.2,542.1 2121.7,542.2 2120.2,539.8 2118.7,539.9 2117.2,543.1 2115.7,543.2 2114.2,546.4 2112.7,546.5 2111.2,541.8 2109.7,541.9 2108.2,541.4 2106.7,541.5 2105.2,544.2 2103.7,544.3 2102.2,540.9 2100.7,541.1 2099.2,543.3 2097.7,543.5 2096.2,544.3 2094.7,544.4 2093.2,545.4 2091.7,545.5 2090.2,545.0 2088.7,545.1 2087.2,544.6 2085.7,544.8 2084.2,548.7 2082.7,548.8 2081.2,547.1 2079.7,547.2 2078.2,546.2 2076.7,546.4 2075.2,545.2 2073.7,545.3 2072.2,550.9 2070.7,551.1 2069.2,546.6 2067.7,546.7 2066.2,544.8 2064.7,544.9 2063.2,547.8 2061.7,547.9 2060.2,545.3 2058.7,545.4 2057.2,545.8 2055.7,545.8 2054.2,549.4 2052.7,549.5 2051.2,545.3 2049.7,545.4 2048.2,546.1 2046.7,546.2 2045.2,549.0 2043.7,549.1 2042.2,551.3 2040.7,551.4 2039.2,548.0 2037.7,548.1 2036.2,548.9 2034.7,549.0 2033.2,550.2 2031.7,550.3 2030.2,551.1 2028.7,551.1 2027.2,550.6 2025.7,550.7 2024.2,548.8 2022.7,548.9 2021.2,549.7 2019.7,549.8 2018.2,553.3 2016.7,553.4 2015.2,552.9 2013.7,553.0 2012.2,551.1 2010.7,551.2 2009.2,554.5 2007.7,554.7 2006.2,553.9 2004.7,554.1 2003.2,550.5 2001.7,550.6 2000.2,554.7 1998.7,554.8 1997.2,551.4 1995.7,551.5 1994.2,554.0 1992.7,554.1 1991.2,551.6 1989.7,551.7 1988.2,550.9 1986.7,551.1 1985.2,552.6 1983.7,552.7 1982.2,555.8 1980.7,555.7 1979.2,553.5 1977.7,553.4 1976.2,551.8 1974.7,551.7 1973.2,555.7 1971.7,555.6 1970.2,554.4 1968.7,554.3 1967.2,549.3 1965.7,549.2 1964.2,552.6 1962.7,552.5 1961.2,548.3 1959.7,548.2 1958.2,549.4 1956.7,549.3 1955.2,549.3 1953.7,549.9 1952.2,550.3 1950.7,551.3 1949.2,556.4 1947.7,557.5 1946.2,556.3 1944.7,557.3 1943.2,559.4 1941.7,560.4 1940.2,560.7 1938.7,561.5 1937.2,561.7 1935.7,562.5 1934.2,566.2 1932.7,567.0 1931.2,562.3 1929.7,563.1 1928.2,568.3 1926.7,569.1 1925.2,567.8 1923.7,568.6 1922.2,567.2 1920.7,568.2 1919.2,577.5 1917.7,579.2 1916.2,578.3 1914.7,580.0 1913.2,581.9 1911.7,584.1 1910.2,583.4 1908.7,587.4 1907.2,593.9 1905.7,597.2 1904.2,597.8 1902.7,598.2 1901.2,598.8 1899.7,599.2 1898.2,601.3 1896.7,601.9 1895.2,602.6 1893.7,603.2 1892.2,600.2 1890.7,600.6 1889.2,600.5 1887.7,607.1 1886.2,607.8 1884.7,609.8 1883.2,614.2 1881.7,616.3 1880.2,620.6 1878.7,622.5 1877.2,620.5 1875.7,622.3 1874.2,627.7 1872.7,629.5 1871.2,627.1 1869.7,628.9 1868.2,632.6 1866.7,634.4 1865.2,634.3 1863.7,635.9 1862.2,642.9 1860.7,643.6 1859.2,649.8 1857.7,650.5 1856.2,650.4 1854.7,651.2 1853.2,646.3 1851.7,647.0 1850.2,645.2 1848.7,646.0 1847.2,647.5 1845.7,648.2 1844.2,652.2 1842.7,652.9 1841.2,653.2 1839.7,654.0 1838.2,651.8 1836.7,652.6 1835.2,659.1 1833.7,659.9 1832.2,655.5 1830.7,656.3 1829.2,650.9 1827.7,651.6 1826.2,658.9 1824.7,659.6 1823.2,664.8 1821.7,665.6 1820.2,663.4 1818.7,664.2 1817.2,660.8 1815.7,662.0 1814.2,665.7 1812.7,667.0 1811.2,662.8 1809.7,664.0 1808.2,665.9 1806.7,667.1 1805.2,673.7 1803.7,674.9 1802.2,676.7 1800.7,678.0 1799.2,679.5 1797.7,680.8 1796.2,677.8 1794.7,679.0 1793.2,683.7 1791.7,684.9 1790.2,687.0 1788.7,688.1 1787.2,687.4 1785.7,688.6 1784.2,692.2 1782.7,693.4 1781.2,699.4 1779.7,700.5 1778.2,701.4 1776.7,702.6 1775.2,696.1 1773.7,697.3 1772.2,706.0 1770.7,707.2 1769.2,697.4 1767.7,698.5 1766.2,700.4 1764.7,701.5 1763.2,704.7 1761.7,705.9 1760.2,707.0 1758.7,708.2 1757.2,705.9 1755.7,706.5 1754.2,713.8 1752.7,714.4 1751.2,708.8 1749.7,709.4 1748.2,709.5 1746.7,710.1 1745.2,713.6 1743.7,714.2 1742.2,718.6 1740.7,719.2 1739.2,713.6 1737.7,714.2 1736.2,716.4 1734.7,717.0 1733.2,716.1 1731.7,716.7 1730.2,729.0 1728.7,729.6 1727.2,726.6 1725.7,727.2 1724.2,725.1 1722.7,725.7 1721.2,722.0 1719.7,722.6 1718.2,725.5 1716.7,726.0 1715.2,725.8 1713.7,726.4 1712.2,725.1 1710.7,726.0 1709.2,737.9 1707.7,738.6 1706.2,729.7 1704.7,730.7 1703.2,730.0 1701.7,731.0 1700.2,736.3 1698.7,737.4 1697.2,735.4 1695.7,736.6 1694.2,738.1 1692.7,739.3 1691.2,741.8 1689.7,742.8 1688.2,747.9 1686.7,747.8 1685.2,742.3 1683.7,742.2 1682.2,747.7 1680.7,747.6 1679.2,742.3 1677.7,742.2 1676.2,743.3 1674.7,743.2 1673.2,741.5 1671.7,741.5 1670.2,740.2 1668.7,740.4 1667.2,743.9 1665.7,744.1 1664.2,744.9 1662.7,745.1 1661.2,743.1 1659.7,743.4 1658.2,749.8 1656.7,750.0 1655.2,747.0 1653.7,747.2 1652.2,746.6 1650.7,746.9 1649.2,751.4 1647.7,751.8 1646.2,752.0 1644.7,752.5 1643.2,750.1 1641.7,750.4 1640.2,747.2 1638.7,747.5 1637.2,745.1 1635.7,756.0 1634.2,756.0 1632.7,756.0 1631.2,761.3 1629.7,761.9 1628.2,749.7 1626.7,749.9 1625.2,749.0 1623.7,747.8 1622.2,744.0 1620.7,742.7 1619.2,742.4 1617.7,741.1 1616.2,739.4 1614.7,764.0 1613.2,764.0 1611.7,764.0 1610.2,733.1 1608.7,731.8 1607.2,727.7 1605.7,726.4 1604.2,743.5 1602.7,742.2 1601.2,730.8 1599.7,729.6 1598.2,727.1 1596.7,740.0 1595.2,740.0 1593.7,741.0 1592.2,741.0 1590.7,741.0 1589.2,726.8 1587.7,725.7 1586.2,717.9 1584.7,716.8 1583.2,707.9 1581.7,706.8 1580.2,717.6 1578.7,722.0 1577.2,722.0 1575.7,722.0 1574.2,703.2 1572.7,701.3 1571.2,699.3 1569.7,697.4 1568.2,697.2 1566.7,695.3 1565.2,692.0 1563.7,695.0 1562.2,698.2 1560.7,696.3 1559.2,690.4 1557.7,688.5 1556.2,686.6 1554.7,684.7 1553.2,696.1 1551.7,694.3 1550.2,677.9 1548.7,676.6 1547.2,671.9 1545.7,690.0 1544.2,690.0 1542.7,690.0 1541.2,671.2 1539.7,688.0 1538.2,688.0 1536.7,688.0 1535.2,664.2 1533.7,662.9 1532.2,673.2 1530.7,674.0 1529.2,674.0 1527.7,674.0 1526.2,656.3 1524.7,655.1 1523.2,655.0 1521.7,653.7 1520.2,672.0 1518.7,671.1 1517.2,648.9 1515.7,648.0 1514.2,644.0 1512.7,643.1 1511.2,644.8 1509.7,664.0 1508.2,664.0 1506.7,664.0 1505.2,643.8 1503.7,656.0 1502.2,656.0 1500.7,656.0 1499.2,635.0 1497.7,634.2 1496.2,635.4 1494.7,634.5 1493.2,632.9 1491.7,661.0 1490.2,661.0 1488.7,661.0 1487.2,627.5 1485.7,627.1 1484.2,632.3 1482.7,648.0 1481.2,648.0 1479.7,648.0 1478.2,635.4 1476.7,634.9 1475.2,632.5 1473.7,638.0 1472.2,638.0 1470.7,638.0 1469.2,628.4 1467.7,627.9 1466.2,620.4 1464.7,619.9 1463.2,629.6 1461.7,629.1 1460.2,620.3 1458.7,643.0 1457.2,643.0 1455.7,643.0 1454.2,629.2 1452.7,628.6 1451.2,625.7 1449.7,625.0 1448.2,624.4 1446.7,623.8 1445.2,622.5 1443.7,621.9 1442.2,618.6 1440.7,618.0 1439.2,617.0 1437.7,616.4 1436.2,618.2 1434.7,617.6 1433.2,611.4 1431.7,610.7 1430.2,614.7 1428.7,614.1 1427.2,622.0 1425.7,622.0 1424.2,622.0 1422.7,609.3 1421.2,617.1 1419.7,615.5 1418.2,604.4 1416.7,602.8 1415.2,600.0 1413.7,598.4 1412.2,598.8 1410.7,597.3 1409.2,589.3 1407.7,588.1 1406.2,603.0 1404.7,603.0 1403.2,603.0 1401.7,593.7 1400.2,604.8 1398.7,604.5 1397.2,598.3 1395.7,598.0 1394.2,595.9 1392.7,595.7 1391.2,588.8 1389.7,588.7 1388.2,593.3 1386.7,593.1 1385.2,605.0 1383.7,605.0 1382.2,605.0 1380.7,587.7 1379.2,585.5 1377.7,582.0 1376.2,574.9 1374.7,571.1 1373.2,569.3 1371.7,564.1 1370.2,558.5 1368.7,553.3 1367.2,547.9 1365.7,543.4 1364.2,541.5 1362.7,536.8 1361.2,529.4 1359.7,528.8" fill="#fd2503"/>
<path d="M1889.6,560 V625 L1892.6,645 V695 L1895.3,713 V748.7 h4.6 V713 L1902.6,695 V645 L1905.1,625 V560 z M1925.0,550 V625 L1925.5,640 V677 L1927.2,690 V701.8 h4.6 V690 L1933.5,677 V640 L1936.0,625 V550 z M1958.5,545 V615 L1960.0,630 V650 L1961.2,658 V665.2 h4.6 V658 L1967.0,650 V630 L1969.0,615 V545 z M1992.3,545 V602 L1993.3,620 V655 L1994.0,662 V669.6 h4.6 V662 L1999.3,655 V620 L2000.3,602 V545 z M2021.5,540 V578 L2022.2,590 V605 L2022.7,610 V615.5 h4.6 V610 L2027.8,605 V590 L2028.5,578 V540 z M2126.0,530 V561 h4.8 V530 z M2193.0,530 V593 h4.8 V530 z M2224.2,530 V583.5 h4.8 V530 z M2259.6,530 V567.4 h4.8 V530 z M2296.6,530 V572 h4.8 V530 z M1864.6,530 V660 h4.8 V530 z M1845.6,530 V672 h4.8 V530 z M1823.6,530 V688 h4.8 V530 z M1803.6,530 V699 h4.8 V530 z" fill="#fd2503"/>
<polygon points="1311.0,494.7 1312.5,494.7 1314.0,494.8 1315.5,494.8 1317.0,493.5 1318.5,493.5 1320.0,493.7 1321.5,493.7 1323.0,494.6 1324.5,494.6 1326.0,494.2 1327.5,494.2 1329.0,494.3 1330.5,494.3 1332.0,494.6 1333.5,494.6 1335.0,493.9 1336.5,493.9 1338.0,494.9 1339.5,494.9 1341.0,494.2 1342.5,494.2 1344.0,493.0 1345.5,493.0 1347.0,494.8 1348.5,494.8 1350.0,493.8 1351.5,493.8 1353.0,494.0 1354.5,494.0 1356.0,493.8 1357.5,493.8 1359.0,494.0 1360.5,494.0 1362.0,494.0 1362.0,516.1 1360.5,517.2 1359.0,517.2 1357.5,516.5 1356.0,516.5 1354.5,518.1 1353.0,518.1 1351.5,516.4 1350.0,516.4 1348.5,516.6 1347.0,516.6 1345.5,516.9 1344.0,516.9 1342.5,517.1 1341.0,517.1 1339.5,516.6 1338.0,516.6 1336.5,518.2 1335.0,518.2 1333.5,517.6 1332.0,517.6 1330.5,516.5 1329.0,516.5 1327.5,517.3 1326.0,517.3 1324.5,516.8 1323.0,516.8 1321.5,516.5 1320.0,516.5 1318.5,516.6 1317.0,516.6 1315.5,516.7 1314.0,516.7 1312.5,517.2 1311.0,517.2" fill="#fd2503"/>
<polygon points="2320.0,491.2 2321.5,491.2 2323.0,492.8 2324.5,492.8 2326.0,491.8 2327.5,491.8 2329.0,493.4 2330.5,493.4 2332.0,493.0 2333.5,493.0 2335.0,492.5 2336.5,492.5 2338.0,493.1 2339.5,493.1 2341.0,492.5 2342.5,492.5 2344.0,492.6 2345.5,492.6 2347.0,492.2 2348.5,492.2 2350.0,492.9 2351.5,492.9 2353.0,493.0 2354.5,493.0 2356.0,493.0 2357.5,493.0 2359.0,492.9 2360.5,492.9 2362.0,490.9 2363.5,490.9 2365.0,492.5 2366.5,492.5 2368.0,492.3 2369.5,492.3 2371.0,493.5 2372.5,493.5 2374.0,493.5 2375.5,493.5 2377.0,491.6 2378.5,491.6 2380.0,491.1 2381.5,491.1 2383.0,493.2 2384.5,493.2 2386.0,493.3 2387.5,493.3 2389.0,492.9 2390.5,492.9 2392.0,491.8 2393.5,491.8 2395.0,493.1 2396.5,493.1 2398.0,492.8 2399.5,492.8 2401.0,493.7 2402.5,493.7 2404.0,493.1 2405.5,493.1 2407.0,493.2 2408.5,493.2 2410.0,493.2 2411.5,493.2 2413.0,489.9 2414.5,489.9 2416.0,493.2 2417.5,493.2 2419.0,492.7 2420.5,492.7 2422.0,493.2 2423.5,493.2 2425.0,493.1 2426.5,493.1 2428.0,492.6 2429.5,492.6 2431.0,492.7 2432.5,492.7 2434.0,492.2 2435.5,492.2 2437.0,493.1 2438.5,493.1 2440.0,493.7 2441.5,493.7 2443.0,493.1 2444.5,493.1 2446.0,492.6 2447.5,492.6 2449.0,493.1 2450.5,493.1 2452.0,492.8 2453.5,492.8 2455.0,492.2 2456.5,492.2 2458.0,492.5 2459.5,492.5 2461.0,493.4 2462.5,493.4 2464.0,493.2 2465.5,493.2 2467.0,493.2 2467.0,518.2 2465.5,517.9 2464.0,517.9 2462.5,517.7 2461.0,517.7 2459.5,518.7 2458.0,518.7 2456.5,517.9 2455.0,517.9 2453.5,518.9 2452.0,518.9 2450.5,518.0 2449.0,518.0 2447.5,518.0 2446.0,518.0 2444.5,519.3 2443.0,519.3 2441.5,518.2 2440.0,518.2 2438.5,517.8 2437.0,517.8 2435.5,519.8 2434.0,519.8 2432.5,518.8 2431.0,518.8 2429.5,517.1 2428.0,517.1 2426.5,517.7 2425.0,517.7 2423.5,519.2 2422.0,519.2 2420.5,517.7 2419.0,517.7 2417.5,517.5 2416.0,517.5 2414.5,517.5 2413.0,517.5 2411.5,518.7 2410.0,518.7 2408.5,516.9 2407.0,516.9 2405.5,517.2 2404.0,517.2 2402.5,517.5 2401.0,517.5 2399.5,517.5 2398.0,517.5 2396.5,517.7 2395.0,517.7 2393.5,517.9 2392.0,517.9 2390.5,518.0 2389.0,518.0 2387.5,517.0 2386.0,517.0 2384.5,518.3 2383.0,518.3 2381.5,517.6 2380.0,517.6 2378.5,518.2 2377.0,518.2 2375.5,518.1 2374.0,518.1 2372.5,517.3 2371.0,517.3 2369.5,518.0 2368.0,518.0 2366.5,519.0 2365.0,519.0 2363.5,517.8 2362.0,517.8 2360.5,518.0 2359.0,518.0 2357.5,517.5 2356.0,517.5 2354.5,517.8 2353.0,517.8 2351.5,519.1 2350.0,519.1 2348.5,520.6 2347.0,520.6 2345.5,518.9 2344.0,518.9 2342.5,517.4 2341.0,517.4 2339.5,517.2 2338.0,517.2 2336.5,517.3 2335.0,517.3 2333.5,517.2 2332.0,517.2 2330.5,518.3 2329.0,518.3 2327.5,517.9 2326.0,517.9 2324.5,518.6 2323.0,518.6 2321.5,519.0 2320.0,519.0" fill="#fd2503"/>
<path d="M1367.8,520 V626" stroke="#fd2503" stroke-width="4.4" fill="none"/>
<path d="M1357,61.5 v8" stroke="#666" stroke-width="2.6" fill="none"/>
<text y="144.9" font-family='"Liberation Sans", sans-serif' font-size="61.0" fill="#000"><tspan x="1522.5" textLength="118.7" lengthAdjust="spacingAndGlyphs" stroke="#000" stroke-width="0.37">LFPs</tspan> <tspan x="1655.9" textLength="51.5" lengthAdjust="spacingAndGlyphs">in</tspan> <tspan x="1722.8" textLength="287.6" lengthAdjust="spacingAndGlyphs">stimlatiion</tspan> <tspan x="2025.5" textLength="128.2" lengthAdjust="spacingAndGlyphs">train</tspan></text>
<path d="M2262.7,169 V352.6" stroke="#111" stroke-width="5.4" fill="none"/>
<text x="2275.2" y="282.7" font-family='"Liberation Sans", sans-serif' font-size="52.9" textLength="185.0" lengthAdjust="spacingAndGlyphs" fill="#111">0.5 mV</text>
<path d="M1318,724.6 H1547.7" stroke="#111" stroke-width="5" fill="none"/>
<text x="1399.6" y="776.0" font-family='"Liberation Sans", sans-serif' font-size="52.8" textLength="80.4" lengthAdjust="spacingAndGlyphs" fill="#111">5 s</text>
<text y="907.8" font-family='"Liberation Sans", sans-serif' font-size="45.3" fill="#000"><tspan x="1210.6" textLength="91.0" lengthAdjust="spacingAndGlyphs">First</tspan> <tspan x="1314.1" textLength="91.9" lengthAdjust="spacingAndGlyphs" stroke="#000" stroke-width="0.18">LFPs</tspan> <tspan x="1417.3" textLength="39.9" lengthAdjust="spacingAndGlyphs">in</tspan> <tspan x="1468.8" textLength="99.2" lengthAdjust="spacingAndGlyphs">train</tspan></text>
<text y="908.8" font-family='"Liberation Sans", sans-serif' font-size="46.1" fill="#000"><tspan x="1991.2" textLength="84.0" lengthAdjust="spacingAndGlyphs">Last</tspan> <tspan x="2087.7" textLength="92.2" lengthAdjust="spacingAndGlyphs" stroke="#000" stroke-width="0.21">LFPs</tspan> <tspan x="2191.3" textLength="40.0" lengthAdjust="spacingAndGlyphs">in</tspan> <tspan x="2243.0" textLength="99.6" lengthAdjust="spacingAndGlyphs">train</tspan></text>
<g stroke="#000" fill="none" stroke-linecap="butt" stroke-linejoin="miter">
<path d="M1279.3,934 L1316.5,1040" stroke-width="7.2"/>
<path d="M1294.8,1025.5 L1318.6,1044.5 L1324.6,1015" stroke-width="6.6" stroke-miterlimit="10"/>
<path d="M2032.8,933 L2120,1151" stroke-width="7.2"/>
<path d="M2099.6,1137.5 L2122.6,1156 L2127.2,1127.5" stroke-width="6.6" stroke-miterlimit="10"/>
<path d="M1734.4,822.8 H1760.2 M1746.3,823 L1762.6,962" stroke-width="4.2"/>
</g>
<polygon points="1749.3,960.5 1774.8,958.5 1765.8,1001" fill="#000"/>
<polyline points="1297.0,1307.0 1298.3,1308.7 1299.6,1308.5 1300.9,1313.2 1302.2,1310.9 1303.5,1312.6 1304.8,1315.8 1306.1,1315.9 1307.4,1314.1 1308.7,1310.0 1310.0,1308.6 1311.3,1308.3 1312.6,1310.5 1313.9,1311.8 1315.2,1307.6 1316.5,1306.9 1317.8,1313.4 1319.1,1303.7 1320.4,1311.2 1321.7,1313.9" stroke="#0b27d4" stroke-width="6" fill="none" stroke-linejoin="round"/>
<path d="M1335,1391 L1335.6,1300 L1338,1100 L1341,980 L1343,961 L1345.5,1000 L1348.5,1050 L1351.5,1090" stroke="#0b27d4" stroke-width="5.5" fill="none" stroke-linejoin="round"/>
<polyline points="1349.5,1063.3 1350.8,1082.8 1352.1,1100.7 1353.4,1117.1 1354.7,1137.8 1356.0,1156.1 1357.3,1174.8 1358.6,1184.8 1359.9,1197.1 1361.2,1198.3 1362.5,1217.2 1363.8,1218.9 1365.1,1227.8 1366.4,1230.1 1367.7,1233.5 1369.0,1241.2 1370.3,1247.0 1371.6,1246.5 1372.9,1250.4 1374.2,1257.9 1375.5,1253.3 1376.8,1252.5 1378.1,1264.4 1379.4,1260.2 1380.7,1253.9 1382.0,1260.1 1383.3,1259.1 1384.6,1250.3 1385.9,1246.1 1387.2,1258.2 1388.5,1270.3 1389.8,1270.0 1391.1,1270.5 1392.4,1280.3 1393.7,1284.9 1395.0,1281.1 1396.3,1288.1 1397.6,1292.9 1398.9,1287.0 1400.2,1284.8 1401.5,1293.1 1402.8,1293.7 1404.1,1300.0 1405.4,1286.9 1406.7,1291.8 1408.0,1291.9 1409.3,1287.8 1410.6,1300.3 1411.9,1304.2 1413.2,1298.2 1414.5,1312.6 1415.8,1310.9 1417.1,1311.5 1418.4,1311.9 1419.7,1316.9 1421.0,1304.8 1422.3,1318.0 1423.6,1319.3 1424.9,1306.4 1426.2,1320.2 1427.5,1317.6 1428.8,1324.8 1430.1,1318.4 1431.4,1321.9 1432.7,1325.0 1434.0,1318.5 1435.3,1328.2 1436.6,1324.8 1437.9,1329.1 1439.2,1323.8 1440.5,1334.2 1441.8,1332.0 1443.1,1328.0 1444.4,1333.6 1445.7,1338.0 1447.0,1341.9 1448.3,1322.3 1449.6,1337.7 1450.9,1335.8 1452.2,1333.1 1453.5,1328.2 1454.8,1342.4 1456.1,1328.0 1457.4,1339.6 1458.7,1344.8 1460.0,1328.1 1461.3,1336.6 1462.6,1331.2 1463.9,1341.1 1465.2,1349.2 1466.5,1352.7 1467.8,1330.2 1469.1,1337.5 1470.4,1345.2 1471.7,1350.4 1473.0,1343.4 1474.3,1336.4 1475.6,1342.6 1476.9,1340.6 1478.2,1339.3 1479.5,1336.0 1480.8,1342.6 1482.1,1342.0 1483.4,1339.4 1484.7,1338.4 1486.0,1331.8 1487.3,1336.4 1488.6,1346.4 1489.9,1337.8 1491.2,1330.1 1492.5,1346.5 1493.8,1341.4 1495.1,1350.6 1496.4,1338.1 1497.7,1334.8 1499.0,1328.6 1500.3,1345.0 1501.6,1352.2 1502.9,1331.7 1504.2,1332.5 1505.5,1339.7 1506.8,1331.0 1508.1,1334.1 1509.4,1333.4 1510.7,1336.5 1512.0,1341.8 1513.3,1335.2 1514.6,1340.4 1515.9,1332.2 1517.2,1336.5 1518.5,1321.6 1519.8,1325.6 1521.1,1338.9 1522.4,1330.5 1523.7,1337.3 1525.0,1337.0 1526.3,1341.5 1527.6,1338.3 1528.9,1339.4 1530.2,1332.5 1531.5,1328.9 1532.8,1328.5 1534.1,1329.9 1535.4,1325.9 1536.7,1329.3 1538.0,1331.9 1539.3,1333.8 1540.6,1330.1 1541.9,1320.5 1543.2,1331.5 1544.5,1333.2 1545.8,1338.2 1547.1,1335.1 1548.4,1327.7 1549.7,1327.1 1551.0,1343.4 1552.3,1335.7 1553.6,1342.1 1554.9,1343.7 1556.2,1325.9 1557.5,1333.1 1558.8,1333.4 1560.1,1333.9 1561.4,1333.7 1562.7,1331.5 1564.0,1331.3 1565.3,1321.1 1566.6,1329.0 1567.9,1325.4 1569.2,1330.6 1570.5,1326.9 1571.8,1333.3 1573.1,1334.4 1574.4,1331.3 1575.7,1331.2 1577.0,1329.8 1578.3,1326.4 1579.6,1328.1 1580.9,1326.0 1582.2,1331.2 1583.5,1328.9 1584.8,1332.2 1586.1,1320.7 1587.4,1333.9 1588.7,1323.9 1590.0,1324.0 1591.3,1327.2 1592.6,1324.9 1593.9,1330.0 1595.2,1324.7 1596.5,1321.7 1597.8,1323.0 1599.1,1335.8 1600.4,1328.2 1601.7,1320.9 1603.0,1327.9 1604.3,1318.4 1605.6,1338.5 1606.9,1318.5 1608.2,1330.5 1609.5,1330.9 1610.8,1318.8 1612.1,1329.3 1613.4,1333.4 1614.7,1330.2 1616.0,1328.9 1617.3,1333.0 1618.6,1328.2 1619.9,1329.2 1621.2,1326.4 1622.5,1330.9 1623.8,1321.5 1625.1,1331.8 1626.4,1324.0 1627.7,1320.4 1629.0,1329.1 1630.3,1337.1 1631.6,1332.6 1632.9,1323.7 1634.2,1331.0 1635.5,1324.0 1636.8,1326.0 1638.1,1327.2 1639.4,1312.8 1640.7,1327.8 1642.0,1320.4 1643.3,1322.4 1644.6,1317.7 1645.9,1317.5 1647.2,1320.9 1648.5,1331.5 1649.8,1336.5 1651.1,1326.3 1652.4,1333.0 1653.7,1324.9 1655.0,1315.0 1656.3,1327.3 1657.6,1329.1 1658.9,1323.8 1660.2,1328.2" stroke="#0b27d4" stroke-width="5.6" fill="none" stroke-linejoin="round"/>
<polyline points="1297.0,1303.0 1298.3,1307.2 1299.6,1306.0 1300.9,1305.9 1302.2,1309.5 1303.5,1298.2 1304.8,1300.5 1306.1,1297.7 1307.4,1302.6 1308.7,1307.0 1310.0,1302.9 1311.3,1305.0 1312.6,1295.4 1313.9,1303.6 1315.2,1299.4 1316.5,1310.1 1317.8,1306.5 1319.1,1306.8 1320.4,1302.8 1321.7,1305.5" stroke="#fd2503" stroke-width="6" fill="none" stroke-linejoin="round"/>
<path d="M1335,1341 L1335.4,1300 L1337.5,1100 L1340,985 L1342.2,960.5 L1344.5,1010 L1346.6,1057 L1351,1145 L1355.4,1218" stroke="#fd2503" stroke-width="5.5" fill="none" stroke-linejoin="round"/>
<polyline points="1353.4,1194.4 1354.7,1206.5 1356.0,1224.4 1357.3,1231.8 1358.6,1241.1 1359.9,1245.3 1361.2,1253.8 1362.5,1254.8 1363.8,1257.7 1365.1,1264.4 1366.4,1267.6 1367.7,1268.7 1369.0,1272.2 1370.3,1278.2 1371.6,1281.1 1372.9,1279.8 1374.2,1282.8 1375.5,1279.9 1376.8,1295.5 1378.1,1290.4 1379.4,1299.0 1380.7,1297.3 1382.0,1306.1 1383.3,1306.4 1384.6,1302.8 1385.9,1310.4 1387.2,1300.2 1388.5,1313.0 1389.8,1301.0 1391.1,1311.6 1392.4,1316.6 1393.7,1313.7 1395.0,1311.9 1396.3,1310.6 1397.6,1313.7 1398.9,1321.5 1400.2,1321.5 1401.5,1316.5 1402.8,1312.4 1404.1,1322.7 1405.4,1312.8 1406.7,1318.1 1408.0,1317.8 1409.3,1325.8 1410.6,1323.9 1411.9,1325.6 1413.2,1325.2 1414.5,1320.9 1415.8,1327.4 1417.1,1332.2 1418.4,1325.3 1419.7,1328.9 1421.0,1325.4 1422.3,1331.3 1423.6,1329.7 1424.9,1330.8 1426.2,1328.1 1427.5,1334.6 1428.8,1324.6 1430.1,1324.7 1431.4,1323.4 1432.7,1329.5 1434.0,1323.3 1435.3,1323.2 1436.6,1330.0 1437.9,1332.2 1439.2,1329.3 1440.5,1313.0 1441.8,1321.6 1443.1,1321.0 1444.4,1320.4 1445.7,1324.4 1447.0,1335.5 1448.3,1324.9 1449.6,1322.7 1450.9,1329.9 1452.2,1326.7 1453.5,1327.0 1454.8,1323.0 1456.1,1326.4 1457.4,1328.5 1458.7,1316.6 1460.0,1318.0 1461.3,1331.2 1462.6,1329.8 1463.9,1322.8 1465.2,1319.9 1466.5,1323.8 1467.8,1318.4 1469.1,1322.3 1470.4,1331.9 1471.7,1324.0 1473.0,1328.8 1474.3,1321.5 1475.6,1324.1 1476.9,1328.9 1478.2,1315.0 1479.5,1319.6 1480.8,1320.3 1482.1,1322.3 1483.4,1328.4 1484.7,1323.9 1486.0,1312.9 1487.3,1318.9 1488.6,1315.6 1489.9,1315.3 1491.2,1329.9 1492.5,1314.4 1493.8,1320.7 1495.1,1315.8 1496.4,1323.6 1497.7,1320.9 1499.0,1319.7 1500.3,1318.5 1501.6,1324.5 1502.9,1314.0 1504.2,1315.0 1505.5,1312.9 1506.8,1325.1 1508.1,1316.8 1509.4,1313.0 1510.7,1316.0 1512.0,1330.5 1513.3,1317.4 1514.6,1322.0 1515.9,1320.0 1517.2,1317.6 1518.5,1314.1 1519.8,1315.8 1521.1,1315.6 1522.4,1306.2 1523.7,1330.1 1525.0,1321.7 1526.3,1317.6 1527.6,1315.9 1528.9,1312.9 1530.2,1321.5 1531.5,1315.8 1532.8,1319.0 1534.1,1309.6 1535.4,1318.3 1536.7,1326.4 1538.0,1314.8 1539.3,1320.2 1540.6,1316.3 1541.9,1321.6 1543.2,1321.3 1544.5,1316.2 1545.8,1313.0 1547.1,1317.2 1548.4,1315.9 1549.7,1312.5 1551.0,1317.8 1552.3,1317.6 1553.6,1310.9 1554.9,1314.7 1556.2,1329.8 1557.5,1319.2 1558.8,1315.5 1560.1,1327.5 1561.4,1312.6 1562.7,1302.4 1564.0,1305.2 1565.3,1307.0 1566.6,1315.9 1567.9,1319.4 1569.2,1303.6 1570.5,1319.9 1571.8,1308.1 1573.1,1315.5 1574.4,1316.4 1575.7,1316.2 1577.0,1314.0 1578.3,1314.8 1579.6,1308.2 1580.9,1315.2 1582.2,1318.6 1583.5,1318.3 1584.8,1326.7 1586.1,1319.0 1587.4,1317.1 1588.7,1321.8 1590.0,1314.6 1591.3,1306.9 1592.6,1302.1 1593.9,1319.6 1595.2,1316.0 1596.5,1317.4 1597.8,1311.4 1599.1,1314.8 1600.4,1322.4 1601.7,1314.7 1603.0,1307.4 1604.3,1310.7 1605.6,1319.8 1606.9,1307.4 1608.2,1299.9 1609.5,1301.3 1610.8,1306.0 1612.1,1316.7 1613.4,1313.1 1614.7,1308.8 1616.0,1306.2 1617.3,1312.0 1618.6,1311.7 1619.9,1309.7 1621.2,1311.2 1622.5,1308.6 1623.8,1321.4 1625.1,1300.5 1626.4,1312.9 1627.7,1307.2 1629.0,1315.8 1630.3,1311.1 1631.6,1314.0 1632.9,1314.8 1634.2,1313.2 1635.5,1317.1 1636.8,1305.1 1638.1,1316.8 1639.4,1311.0 1640.7,1313.9 1642.0,1319.8 1643.3,1317.6 1644.6,1321.9 1645.9,1300.7 1647.2,1307.1 1648.5,1316.7 1649.8,1306.2 1651.1,1311.0 1652.4,1320.4 1653.7,1316.2 1655.0,1307.0 1656.3,1314.1 1657.6,1315.0 1658.9,1312.1 1660.2,1311.3" stroke="#fd2503" stroke-width="5.6" fill="none" stroke-linejoin="round"/>
<polyline points="1698.3,1303.2 1699.6,1311.0 1700.9,1312.0 1702.2,1306.6 1703.5,1307.1 1704.8,1302.6 1706.1,1300.4 1707.4,1300.5 1708.7,1300.0 1710.0,1309.6 1711.3,1304.7 1712.6,1305.6 1713.9,1301.8 1715.2,1299.6 1716.5,1299.0 1717.8,1300.8 1719.1,1308.0 1720.4,1305.1 1721.7,1302.7 1723.0,1303.8 1724.3,1297.9 1725.6,1311.2 1726.9,1298.9 1728.2,1305.2" stroke="#0b27d4" stroke-width="7" fill="none" stroke-linejoin="round"/>
<path d="M1741.3,1403 L1742,1330 L1745,1150 L1748,1050 L1749.6,1035.6 L1752,1100 L1756,1330 L1760,1560 L1762.7,1685.4 L1765.5,1560 L1770,1400 L1774.5,1290 L1778,1240 L1783,1200 L1787,1187" stroke="#0b27d4" stroke-width="5.2" fill="none" stroke-linejoin="round"/>
<polyline points="1787.0,1187.5 1788.3,1186.1 1789.6,1178.9 1790.9,1185.7 1792.2,1186.3 1793.5,1191.7 1794.8,1199.3 1796.1,1204.2 1797.4,1209.7 1798.7,1215.5 1800.0,1215.9 1801.3,1214.8 1802.6,1203.7 1803.9,1201.1 1805.2,1212.1 1806.5,1212.1 1807.8,1221.4 1809.1,1221.7 1810.4,1216.0 1811.7,1231.9 1813.0,1234.1 1814.3,1236.9 1815.6,1236.3 1816.9,1245.6 1818.2,1249.7 1819.5,1260.2 1820.8,1259.8 1822.1,1271.7 1823.4,1260.5 1824.7,1270.8 1826.0,1273.4 1827.3,1266.9 1828.6,1265.6 1829.9,1278.7 1831.2,1275.3 1832.5,1270.7 1833.8,1273.4 1835.1,1266.2 1836.4,1270.8 1837.7,1264.9 1839.0,1268.7 1840.3,1272.6 1841.6,1263.7 1842.9,1269.8 1844.2,1257.3 1845.5,1260.5 1846.8,1252.7 1848.1,1258.9 1849.4,1258.6 1850.7,1255.5 1852.0,1253.6 1853.3,1261.8 1854.6,1261.0 1855.9,1243.8 1857.2,1256.7 1858.5,1237.9 1859.8,1242.3 1861.1,1244.2 1862.4,1244.5 1863.7,1236.1 1865.0,1236.7 1866.3,1240.1 1867.6,1234.2 1868.9,1233.3 1870.2,1239.7 1871.5,1239.8 1872.8,1232.6 1874.1,1232.2 1875.4,1231.7 1876.7,1229.3 1878.0,1229.6 1879.3,1227.3 1880.6,1238.5 1881.9,1235.3 1883.2,1236.0 1884.5,1238.9 1885.8,1241.6 1887.1,1247.5 1888.4,1237.9 1889.7,1237.6 1891.0,1241.7 1892.3,1235.9 1893.6,1249.1 1894.9,1247.5 1896.2,1246.6 1897.5,1242.2 1898.8,1247.9 1900.1,1250.4 1901.4,1247.7 1902.7,1243.6 1904.0,1235.8 1905.3,1252.2 1906.6,1245.1 1907.9,1242.8 1909.2,1253.9 1910.5,1251.2 1911.8,1241.4 1913.1,1250.0 1914.4,1249.6 1915.7,1257.9 1917.0,1241.2 1918.3,1251.0 1919.6,1253.1 1920.9,1263.1 1922.2,1248.8 1923.5,1238.3 1924.8,1248.2 1926.1,1258.7 1927.4,1262.6 1928.7,1268.7 1930.0,1261.3 1931.3,1254.6 1932.6,1265.3 1933.9,1260.4 1935.2,1259.8 1936.5,1261.6 1937.8,1269.7 1939.1,1257.1 1940.4,1256.9 1941.7,1263.1 1943.0,1263.6 1944.3,1259.6 1945.6,1259.7 1946.9,1267.8 1948.2,1274.0 1949.5,1270.8 1950.8,1271.1 1952.1,1275.0 1953.4,1256.1 1954.7,1259.6 1956.0,1265.0 1957.3,1262.6 1958.6,1264.4 1959.9,1271.4 1961.2,1263.9 1962.5,1269.6 1963.8,1260.7 1965.1,1267.8 1966.4,1282.4 1967.7,1271.7 1969.0,1277.7 1970.3,1280.7 1971.6,1274.2 1972.9,1281.3 1974.2,1279.8 1975.5,1283.4 1976.8,1276.1 1978.1,1271.9 1979.4,1275.1 1980.7,1278.5 1982.0,1285.7 1983.3,1281.8 1984.6,1281.2 1985.9,1283.0 1987.2,1291.2 1988.5,1281.6 1989.8,1294.6 1991.1,1278.7 1992.4,1283.0 1993.7,1292.2 1995.0,1290.6 1996.3,1282.9 1997.6,1287.8 1998.9,1284.7 2000.2,1294.5 2001.5,1293.1 2002.8,1286.0 2004.1,1293.0 2005.4,1288.8 2006.7,1291.0 2008.0,1292.1 2009.3,1288.6 2010.6,1294.8 2011.9,1295.3 2013.2,1295.3 2014.5,1299.5 2015.8,1291.4 2017.1,1284.2 2018.4,1290.2 2019.7,1294.5 2021.0,1293.5 2022.3,1296.9 2023.6,1298.3 2024.9,1292.9 2026.2,1293.0 2027.5,1287.8 2028.8,1300.0 2030.1,1292.3 2031.4,1287.4 2032.7,1287.3 2034.0,1291.6 2035.3,1303.4 2036.6,1298.8 2037.9,1284.1 2039.2,1293.5 2040.5,1295.9 2041.8,1298.1 2043.1,1296.5 2044.4,1290.6 2045.7,1297.0 2047.0,1291.2 2048.3,1281.1 2049.6,1290.3 2050.9,1290.5 2052.2,1300.3 2053.5,1301.0 2054.8,1288.4 2056.1,1295.7 2057.4,1295.2 2058.7,1286.1 2060.0,1282.4 2061.3,1294.1" stroke="#0b27d4" stroke-width="5.6" fill="none" stroke-linejoin="round"/>
<polyline points="1698.3,1284.0 1699.6,1284.9 1700.9,1284.4 1702.2,1287.5 1703.5,1296.8 1704.8,1283.1 1706.1,1294.5 1707.4,1296.0 1708.7,1288.7 1710.0,1287.1 1711.3,1292.4 1712.6,1295.8 1713.9,1300.0 1715.2,1294.3 1716.5,1297.5 1717.8,1288.3 1719.1,1286.4 1720.4,1282.6 1721.7,1285.1 1723.0,1288.7 1724.3,1291.2 1725.6,1284.4 1726.9,1294.0 1728.2,1289.8" stroke="#fd2503" stroke-width="7" fill="none" stroke-linejoin="round"/>
<path d="M1741.3,1366.4 L1742,1320 L1744.5,1150 L1747.5,1060 L1749.5,1045.9 L1751.5,1100 L1755,1330 L1758.5,1500 L1761.2,1561 L1764,1500 L1768,1380 L1772,1290 L1775.5,1230 L1780,1203 L1786,1193.7" stroke="#fd2503" stroke-width="5.2" fill="none" stroke-linejoin="round"/>
<polyline points="1786.0,1194.4 1787.3,1194.6 1788.6,1195.7 1789.9,1193.9 1791.2,1201.8 1792.5,1202.0 1793.8,1214.2 1795.1,1219.6 1796.4,1225.0 1797.7,1228.9 1799.0,1231.1 1800.3,1232.1 1801.6,1235.8 1802.9,1244.2 1804.2,1240.1 1805.5,1243.6 1806.8,1244.2 1808.1,1247.3 1809.4,1250.4 1810.7,1254.8 1812.0,1254.5 1813.3,1255.9 1814.6,1255.9 1815.9,1259.8 1817.2,1253.2 1818.5,1259.6 1819.8,1265.3 1821.1,1254.1 1822.4,1256.7 1823.7,1269.9 1825.0,1249.8 1826.3,1245.7 1827.6,1250.4 1828.9,1260.2 1830.2,1259.7 1831.5,1241.9 1832.8,1249.3 1834.1,1245.2 1835.4,1241.2 1836.7,1233.9 1838.0,1248.6 1839.3,1239.3 1840.6,1245.3 1841.9,1244.5 1843.2,1253.8 1844.5,1250.8 1845.8,1239.6 1847.1,1244.6 1848.4,1251.6 1849.7,1240.3 1851.0,1245.6 1852.3,1249.2 1853.6,1240.5 1854.9,1242.8 1856.2,1240.9 1857.5,1251.2 1858.8,1247.4 1860.1,1255.2 1861.4,1251.6 1862.7,1254.3 1864.0,1251.4 1865.3,1256.0 1866.6,1252.1 1867.9,1248.1 1869.2,1259.3 1870.5,1258.7 1871.8,1265.6 1873.1,1253.9 1874.4,1252.1 1875.7,1248.2 1877.0,1236.6 1878.3,1249.7 1879.6,1259.1 1880.9,1252.6 1882.2,1244.5 1883.5,1260.9 1884.8,1255.3 1886.1,1256.8 1887.4,1256.9 1888.7,1258.8 1890.0,1262.2 1891.3,1251.5 1892.6,1259.5 1893.9,1258.5 1895.2,1267.1 1896.5,1256.6 1897.8,1270.4 1899.1,1265.6 1900.4,1271.1 1901.7,1259.8 1903.0,1267.8 1904.3,1265.9 1905.6,1257.0 1906.9,1263.6 1908.2,1263.0 1909.5,1260.9 1910.8,1262.2 1912.1,1259.3 1913.4,1264.5 1914.7,1268.9 1916.0,1263.8 1917.3,1260.3 1918.6,1273.7 1919.9,1267.0 1921.2,1269.5 1922.5,1268.6 1923.8,1267.5 1925.1,1273.6 1926.4,1268.3 1927.7,1271.5 1929.0,1264.6 1930.3,1264.0 1931.6,1270.7 1932.9,1282.6 1934.2,1274.3 1935.5,1283.5 1936.8,1276.4 1938.1,1276.8 1939.4,1272.0 1940.7,1275.1 1942.0,1284.5 1943.3,1281.8 1944.6,1273.0 1945.9,1274.1 1947.2,1283.4 1948.5,1274.4 1949.8,1281.9 1951.1,1273.0 1952.4,1281.0 1953.7,1285.7 1955.0,1282.6 1956.3,1279.9 1957.6,1279.6 1958.9,1278.7 1960.2,1279.3 1961.5,1285.5 1962.8,1285.6 1964.1,1282.1 1965.4,1274.0 1966.7,1278.0 1968.0,1282.3 1969.3,1281.3 1970.6,1274.5 1971.9,1284.8 1973.2,1294.7 1974.5,1275.8 1975.8,1282.5 1977.1,1290.5 1978.4,1280.6 1979.7,1280.9 1981.0,1284.0 1982.3,1286.2 1983.6,1281.6 1984.9,1288.7 1986.2,1274.5 1987.5,1287.6 1988.8,1286.3 1990.1,1283.9 1991.4,1286.8 1992.7,1285.3 1994.0,1291.9 1995.3,1283.1 1996.6,1285.4 1997.9,1278.8 1999.2,1280.2 2000.5,1284.8 2001.8,1278.3 2003.1,1281.9 2004.4,1279.6 2005.7,1283.9 2007.0,1287.0 2008.3,1291.2 2009.6,1276.9 2010.9,1285.7 2012.2,1291.1 2013.5,1293.7 2014.8,1293.9 2016.1,1279.8 2017.4,1284.5 2018.7,1289.9 2020.0,1291.9 2021.3,1288.6 2022.6,1288.6 2023.9,1288.5 2025.2,1283.5 2026.5,1288.2 2027.8,1291.4 2029.1,1285.7 2030.4,1293.3 2031.7,1273.2 2033.0,1285.8 2034.3,1295.9 2035.6,1291.8 2036.9,1294.6 2038.2,1288.1 2039.5,1281.5 2040.8,1284.8 2042.1,1295.0 2043.4,1278.2 2044.7,1282.6 2046.0,1278.8 2047.3,1284.7 2048.6,1285.3 2049.9,1290.3 2051.2,1283.3 2052.5,1296.0 2053.8,1290.6 2055.1,1285.0 2056.4,1282.4 2057.7,1279.9 2059.0,1288.0 2060.3,1297.3" stroke="#fd2503" stroke-width="5.6" fill="none" stroke-linejoin="round"/>
<polyline points="2097.4,1305.1 2098.7,1301.3 2100.0,1293.6 2101.3,1297.0 2102.6,1296.7 2103.9,1308.6 2105.2,1293.8 2106.5,1304.2 2107.8,1298.6 2109.1,1302.6 2110.4,1298.0 2111.7,1299.8 2113.0,1300.2 2114.3,1298.5 2115.6,1300.9 2116.9,1299.6 2118.2,1303.5 2119.5,1306.1 2120.8,1297.6 2122.1,1297.2 2123.4,1299.8 2124.7,1290.5 2126.0,1299.4 2127.3,1295.6 2128.6,1294.3 2129.9,1290.9 2131.2,1297.0 2132.5,1300.3" stroke="#0b27d4" stroke-width="6" fill="none" stroke-linejoin="round"/>
<polyline points="2144.8,1363.9 2146.1,1346.4 2147.4,1327.5 2148.7,1303.5 2150.0,1281.0 2151.3,1250.4 2152.6,1224.4 2153.9,1196.7 2155.2,1181.0 2156.5,1163.3 2157.8,1162.7 2159.1,1161.2 2160.4,1164.7 2161.7,1179.9 2163.0,1188.1 2164.3,1189.1 2165.6,1206.7 2166.9,1213.3 2168.2,1224.3 2169.5,1229.5 2170.8,1235.6 2172.1,1242.5 2173.4,1246.9 2174.7,1243.4 2176.0,1253.0 2177.3,1251.9 2178.6,1256.4 2179.9,1265.7 2181.2,1277.1 2182.5,1281.7 2183.8,1280.7 2185.1,1285.5 2186.4,1289.9 2187.7,1299.8 2189.0,1308.2 2190.3,1305.5 2191.6,1311.8 2192.9,1311.6 2194.2,1320.5 2195.5,1301.1 2196.8,1301.9 2198.1,1315.0 2199.4,1321.5 2200.7,1316.7 2202.0,1323.4 2203.3,1315.7 2204.6,1317.4 2205.9,1323.0 2207.2,1334.8 2208.5,1336.3 2209.8,1330.0 2211.1,1337.2 2212.4,1333.6 2213.7,1338.3 2215.0,1332.0 2216.3,1338.9 2217.6,1335.3 2218.9,1339.9 2220.2,1336.7 2221.5,1336.0 2222.8,1342.0 2224.1,1339.6 2225.4,1342.1 2226.7,1339.8 2228.0,1346.2 2229.3,1337.9 2230.6,1347.6 2231.9,1351.1 2233.2,1341.6 2234.5,1353.8 2235.8,1355.6 2237.1,1346.1 2238.4,1335.4 2239.7,1333.8 2241.0,1342.3 2242.3,1353.9 2243.6,1346.6 2244.9,1347.5 2246.2,1341.2 2247.5,1337.9 2248.8,1344.3 2250.1,1335.1 2251.4,1340.2 2252.7,1344.1 2254.0,1340.8 2255.3,1343.3 2256.6,1337.0 2257.9,1342.8 2259.2,1341.1 2260.5,1328.3 2261.8,1331.4 2263.1,1332.9 2264.4,1340.6 2265.7,1338.0 2267.0,1337.3 2268.3,1336.2 2269.6,1338.4 2270.9,1339.8 2272.2,1330.3 2273.5,1323.6 2274.8,1336.7 2276.1,1331.0 2277.4,1332.0 2278.7,1330.2 2280.0,1324.0 2281.3,1321.1 2282.6,1335.4 2283.9,1335.6 2285.2,1334.1 2286.5,1329.1 2287.8,1328.9 2289.1,1324.2 2290.4,1326.6 2291.7,1323.1 2293.0,1321.7 2294.3,1325.6 2295.6,1334.0 2296.9,1312.0 2298.2,1326.3 2299.5,1326.3 2300.8,1314.4 2302.1,1323.0 2303.4,1321.1 2304.7,1317.1 2306.0,1316.3 2307.3,1310.1 2308.6,1328.1 2309.9,1331.3 2311.2,1326.1 2312.5,1314.2 2313.8,1317.0 2315.1,1317.0 2316.4,1309.3 2317.7,1312.1 2319.0,1316.4 2320.3,1310.3 2321.6,1301.9 2322.9,1304.6 2324.2,1313.5 2325.5,1309.8 2326.8,1310.0 2328.1,1319.9 2329.4,1312.3 2330.7,1307.5 2332.0,1311.4 2333.3,1324.7 2334.6,1305.0 2335.9,1322.5 2337.2,1320.4 2338.5,1310.8 2339.8,1309.8 2341.1,1320.3 2342.4,1313.3 2343.7,1308.6 2345.0,1322.7 2346.3,1312.8 2347.6,1313.8 2348.9,1312.0 2350.2,1310.0 2351.5,1312.5 2352.8,1309.6 2354.1,1314.8 2355.4,1318.1 2356.7,1318.3 2358.0,1318.9 2359.3,1320.8 2360.6,1316.4 2361.9,1308.2 2363.2,1317.6 2364.5,1301.9 2365.8,1307.5 2367.1,1313.5 2368.4,1301.7 2369.7,1320.6 2371.0,1305.7 2372.3,1302.8 2373.6,1307.2 2374.9,1307.2 2376.2,1311.6 2377.5,1310.9 2378.8,1318.0 2380.1,1310.8 2381.4,1312.8 2382.7,1305.8 2384.0,1314.6 2385.3,1306.9 2386.6,1299.8 2387.9,1319.2 2389.2,1304.9 2390.5,1304.6 2391.8,1305.7 2393.1,1314.7 2394.4,1301.5 2395.7,1308.1 2397.0,1313.7 2398.3,1321.4 2399.6,1308.1 2400.9,1310.0 2402.2,1304.2 2403.5,1321.1 2404.8,1308.2 2406.1,1308.4 2407.4,1309.4 2408.7,1302.8 2410.0,1308.0 2411.3,1300.3 2412.6,1316.6 2413.9,1306.5 2415.2,1306.2 2416.5,1314.0 2417.8,1299.5 2419.1,1315.0 2420.4,1315.5 2421.7,1301.5 2423.0,1310.1 2424.3,1305.1 2425.6,1310.8 2426.9,1305.5 2428.2,1299.6 2429.5,1308.6 2430.8,1303.3 2432.1,1305.4 2433.4,1310.0 2434.7,1311.2 2436.0,1307.4 2437.3,1294.9 2438.6,1307.3 2439.9,1301.1 2441.2,1309.1 2442.5,1301.2 2443.8,1310.7 2445.1,1304.9 2446.4,1301.6 2447.7,1303.1 2449.0,1290.4 2450.3,1304.2 2451.6,1301.2 2452.9,1293.6 2454.2,1302.4 2455.5,1301.5 2456.8,1301.5 2458.1,1298.4 2459.4,1303.5" stroke="#0b27d4" stroke-width="5.6" fill="none" stroke-linejoin="round"/>
<path d="M2238.4,1343 V1370" stroke="#0b27d4" stroke-width="4" fill="none"/>
<polyline points="2097.4,1297.6 2098.7,1297.0 2100.0,1293.9 2101.3,1296.6 2102.6,1291.4 2103.9,1286.7 2105.2,1300.7 2106.5,1295.9 2107.8,1285.7 2109.1,1289.8 2110.4,1291.5 2111.7,1295.4 2113.0,1299.3 2114.3,1295.2 2115.6,1292.3 2116.9,1295.9 2118.2,1293.1 2119.5,1294.7 2120.8,1291.3 2122.1,1289.2 2123.4,1299.1 2124.7,1292.7 2126.0,1294.5 2127.3,1291.6 2128.6,1291.8 2129.9,1292.6 2131.2,1296.6 2132.5,1298.9" stroke="#fd2503" stroke-width="6" fill="none" stroke-linejoin="round"/>
<polyline points="2144.8,1336.1 2146.1,1326.5 2147.4,1317.0 2148.7,1300.2 2150.0,1282.4 2151.3,1275.3 2152.6,1263.3 2153.9,1256.8 2155.2,1253.2 2156.5,1244.6 2157.8,1237.9 2159.1,1236.4 2160.4,1238.7 2161.7,1230.8 2163.0,1234.8 2164.3,1235.4 2165.6,1232.0 2166.9,1237.4 2168.2,1239.9 2169.5,1236.6 2170.8,1238.5 2172.1,1243.2 2173.4,1237.8 2174.7,1241.0 2176.0,1250.3 2177.3,1249.7 2178.6,1246.6 2179.9,1255.4 2181.2,1266.4 2182.5,1253.8 2183.8,1266.5 2185.1,1268.6 2186.4,1266.6 2187.7,1272.6 2189.0,1268.5 2190.3,1281.6 2191.6,1284.4 2192.9,1273.2 2194.2,1278.1 2195.5,1281.3 2196.8,1278.8 2198.1,1285.0 2199.4,1279.2 2200.7,1288.4 2202.0,1285.1 2203.3,1287.3 2204.6,1290.9 2205.9,1294.0 2207.2,1285.4 2208.5,1295.1 2209.8,1296.3 2211.1,1292.2 2212.4,1301.3 2213.7,1290.6 2215.0,1292.5 2216.3,1297.9 2217.6,1293.3 2218.9,1304.4 2220.2,1299.2 2221.5,1307.5 2222.8,1294.3 2224.1,1295.5 2225.4,1307.5 2226.7,1296.2 2228.0,1307.3 2229.3,1298.4 2230.6,1304.2 2231.9,1309.2 2233.2,1303.4 2234.5,1298.3 2235.8,1301.9 2237.1,1310.3 2238.4,1305.9 2239.7,1308.7 2241.0,1305.9 2242.3,1307.2 2243.6,1305.1 2244.9,1301.2 2246.2,1309.3 2247.5,1307.7 2248.8,1297.1 2250.1,1307.2 2251.4,1312.2 2252.7,1317.2 2254.0,1300.9 2255.3,1308.3 2256.6,1310.7 2257.9,1311.7 2259.2,1304.5 2260.5,1310.6 2261.8,1305.9 2263.1,1307.8 2264.4,1305.3 2265.7,1309.5 2267.0,1306.0 2268.3,1309.4 2269.6,1307.4 2270.9,1312.3 2272.2,1316.1 2273.5,1307.2 2274.8,1303.9 2276.1,1306.3 2277.4,1304.7 2278.7,1299.0 2280.0,1307.3 2281.3,1304.6 2282.6,1311.5 2283.9,1306.2 2285.2,1311.4 2286.5,1310.5 2287.8,1304.0 2289.1,1304.7 2290.4,1303.6 2291.7,1303.7 2293.0,1309.8 2294.3,1302.8 2295.6,1303.0 2296.9,1300.8 2298.2,1311.5 2299.5,1302.3 2300.8,1303.0 2302.1,1299.1 2303.4,1304.2 2304.7,1298.8 2306.0,1299.0 2307.3,1291.9 2308.6,1293.6 2309.9,1302.4 2311.2,1305.0 2312.5,1292.7 2313.8,1301.7 2315.1,1301.6 2316.4,1315.8 2317.7,1295.4 2319.0,1296.9 2320.3,1294.9 2321.6,1304.1 2322.9,1305.1 2324.2,1298.4 2325.5,1307.2 2326.8,1310.0 2328.1,1297.0 2329.4,1302.0 2330.7,1298.2 2332.0,1295.9 2333.3,1296.7 2334.6,1297.7 2335.9,1292.4 2337.2,1298.3 2338.5,1302.7 2339.8,1293.9 2341.1,1296.0 2342.4,1294.0 2343.7,1300.4 2345.0,1297.9 2346.3,1303.0 2347.6,1296.7 2348.9,1290.9 2350.2,1301.0 2351.5,1296.6 2352.8,1303.8 2354.1,1301.6 2355.4,1284.8 2356.7,1288.1 2358.0,1298.0 2359.3,1294.1 2360.6,1286.6 2361.9,1295.1 2363.2,1304.2 2364.5,1300.8 2365.8,1293.2 2367.1,1299.0 2368.4,1302.6 2369.7,1296.6 2371.0,1306.3 2372.3,1293.9 2373.6,1307.9 2374.9,1305.0 2376.2,1299.9 2377.5,1298.4 2378.8,1297.4 2380.1,1292.6 2381.4,1302.1 2382.7,1303.5 2384.0,1301.1 2385.3,1298.5 2386.6,1297.6 2387.9,1292.4 2389.2,1293.8 2390.5,1289.8 2391.8,1299.4 2393.1,1292.5 2394.4,1301.1 2395.7,1293.6 2397.0,1304.0 2398.3,1304.7 2399.6,1304.5 2400.9,1302.5 2402.2,1295.3 2403.5,1295.2 2404.8,1293.0 2406.1,1298.3 2407.4,1305.1 2408.7,1291.2 2410.0,1308.7 2411.3,1293.8 2412.6,1290.7 2413.9,1298.2 2415.2,1301.9 2416.5,1294.7 2417.8,1291.4 2419.1,1305.2 2420.4,1290.9 2421.7,1301.4 2423.0,1297.1 2424.3,1294.5 2425.6,1296.6 2426.9,1290.9 2428.2,1290.7 2429.5,1297.8 2430.8,1291.1 2432.1,1292.4 2433.4,1303.5 2434.7,1305.2 2436.0,1301.7 2437.3,1300.7 2438.6,1294.9 2439.9,1296.6 2441.2,1292.4 2442.5,1282.1 2443.8,1297.1 2445.1,1297.2 2446.4,1301.0 2447.7,1290.1 2449.0,1301.8 2450.3,1293.3 2451.6,1289.8 2452.9,1294.7 2454.2,1300.6 2455.5,1295.9 2456.8,1298.2 2458.1,1291.5 2459.4,1298.3" stroke="#fd2503" stroke-width="5.6" fill="none" stroke-linejoin="round"/>
<path d="M2094.2,1656 H2269 M2266.8,1399 V1658.2" stroke="#111" stroke-width="4.6" fill="none"/>
<text x="2282.1" y="1542.0" font-family='"Liberation Sans", sans-serif' font-size="53.3" textLength="186.8" lengthAdjust="spacingAndGlyphs" fill="#111">0.5 mV</text>
<text x="2105.5" y="1714.0" font-family='"Liberation Sans", sans-serif' font-size="52.3" textLength="162.6" lengthAdjust="spacingAndGlyphs" fill="#111">40 ms</text>
<rect x="1189.3" y="1823.5" width="195.7" height="11" fill="#999" opacity="0.6"/>
<rect x="1189.3" y="1912" width="195.7" height="11" fill="#999" opacity="0.6"/>
<rect x="1189.3" y="1820.5" width="195.7" height="11" fill="#fd2407"/>
<rect x="1189.3" y="1909" width="195.7" height="11" fill="#0a32f5"/>
<text y="1832.4" font-family='"Liberation Sans", sans-serif' font-size="53.8" fill="#000"><tspan x="1434.9" textLength="120.3" lengthAdjust="spacingAndGlyphs" stroke="#000" stroke-width="0.30">ACSF</tspan> <tspan x="1569.3" textLength="106.6" lengthAdjust="spacingAndGlyphs">with</tspan> <tspan x="1690.0" textLength="59.6" lengthAdjust="spacingAndGlyphs">10</tspan> <tspan x="1762.8" textLength="97.7" lengthAdjust="spacingAndGlyphs">mM</tspan> <tspan x="1873.5" textLength="182.2" lengthAdjust="spacingAndGlyphs">glucose</tspan></text>
<text y="1924.2" font-family='"Liberation Sans", sans-serif' font-size="53.8" fill="#000"><tspan x="1434.9" textLength="120.4" lengthAdjust="spacingAndGlyphs" stroke="#000" stroke-width="0.30">ACSF</tspan> <tspan x="1569.3" textLength="106.6" lengthAdjust="spacingAndGlyphs">with</tspan> <tspan x="1690.1" textLength="59.6" lengthAdjust="spacingAndGlyphs">10</tspan> <tspan x="1763.0" textLength="97.7" lengthAdjust="spacingAndGlyphs">mM</tspan> <tspan x="1873.6" textLength="208.6" lengthAdjust="spacingAndGlyphs">L-lactate</tspan> <tspan x="2096.4" textLength="331.7" lengthAdjust="spacingAndGlyphs">(glucose-free)</tspan></text>
</g>
</g>
</svg>
</body>
</html>
